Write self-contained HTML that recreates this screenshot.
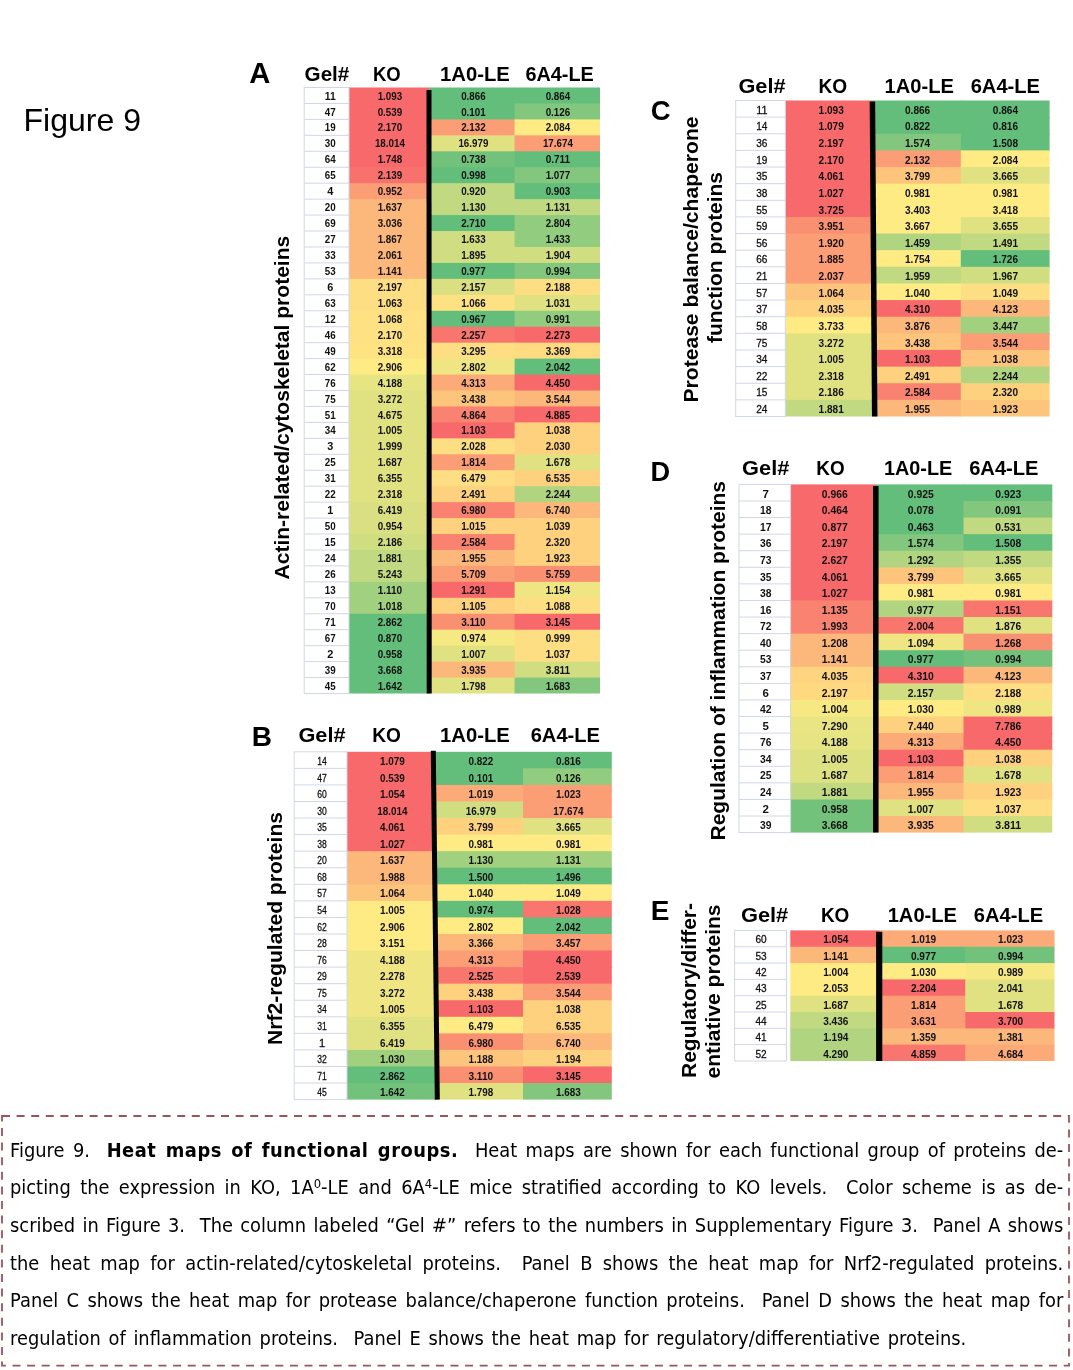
<!DOCTYPE html>
<html lang="en"><head><meta charset="utf-8"><title>Figure 9</title>
<style>
html,body{margin:0;padding:0;background:#fff}
body{width:1073px;height:1370px;position:relative;overflow:hidden;font-family:"Liberation Sans",sans-serif}
#cap{position:absolute;left:3px;top:1116px;width:1065px;height:249px}
#cap .ln{position:absolute;left:6.8px;width:1135px;height:20px;line-height:20px;font-family:"DejaVu Sans","Liberation Sans",sans-serif;font-size:19.25px;color:#000;white-space:nowrap;text-align:justify;text-align-last:justify;transform:scaleX(0.928);transform-origin:0 0}
#cap .ln.last{text-align:left;text-align-last:left;width:auto;word-spacing:2.2px}
#cap sup{font-size:12.5px;line-height:0;vertical-align:6px}
#cap b{letter-spacing:0.55px}
</style></head><body>
<svg width="1073" height="1110" viewBox="0 0 1073 1110" style="position:absolute;left:0;top:0">
<g font-family="Liberation Sans, sans-serif" fill="#111">
<g>
<rect x="349.00" y="87.50" width="80.60" height="16.95" fill="#f8696b"/>
<rect x="429.00" y="87.50" width="86.20" height="16.95" fill="#63be7b"/>
<rect x="514.60" y="87.50" width="85.40" height="16.95" fill="#63be7b"/>
<rect x="349.00" y="103.45" width="80.60" height="16.95" fill="#f8696b"/>
<rect x="429.00" y="103.45" width="86.20" height="16.95" fill="#63be7b"/>
<rect x="514.60" y="103.45" width="85.40" height="16.95" fill="#82c77d"/>
<rect x="349.00" y="119.39" width="80.60" height="16.95" fill="#f8696b"/>
<rect x="429.00" y="119.39" width="86.20" height="16.95" fill="#fb9d75"/>
<rect x="514.60" y="119.39" width="85.40" height="16.95" fill="#ffeb84"/>
<rect x="349.00" y="135.34" width="80.60" height="16.95" fill="#f8696b"/>
<rect x="429.00" y="135.34" width="86.20" height="16.95" fill="#e0e282"/>
<rect x="514.60" y="135.34" width="85.40" height="16.95" fill="#fb9d75"/>
<rect x="349.00" y="151.29" width="80.60" height="16.95" fill="#f8696b"/>
<rect x="429.00" y="151.29" width="86.20" height="16.95" fill="#73c27c"/>
<rect x="514.60" y="151.29" width="85.40" height="16.95" fill="#63be7b"/>
<rect x="349.00" y="167.24" width="80.60" height="16.95" fill="#f8716c"/>
<rect x="429.00" y="167.24" width="86.20" height="16.95" fill="#63be7b"/>
<rect x="514.60" y="167.24" width="85.40" height="16.95" fill="#82c77d"/>
<rect x="349.00" y="183.18" width="80.60" height="16.95" fill="#fb9d75"/>
<rect x="429.00" y="183.18" width="86.20" height="16.95" fill="#c1d980"/>
<rect x="514.60" y="183.18" width="85.40" height="16.95" fill="#63be7b"/>
<rect x="349.00" y="199.13" width="80.60" height="16.95" fill="#fcb77a"/>
<rect x="429.00" y="199.13" width="86.20" height="16.95" fill="#c1d980"/>
<rect x="514.60" y="199.13" width="85.40" height="16.95" fill="#c1d980"/>
<rect x="349.00" y="215.08" width="80.60" height="16.95" fill="#fcb77a"/>
<rect x="429.00" y="215.08" width="86.20" height="16.95" fill="#63be7b"/>
<rect x="514.60" y="215.08" width="85.40" height="16.95" fill="#92cc7e"/>
<rect x="349.00" y="231.03" width="80.60" height="16.95" fill="#fcb77a"/>
<rect x="429.00" y="231.03" width="86.20" height="16.95" fill="#d0de81"/>
<rect x="514.60" y="231.03" width="85.40" height="16.95" fill="#92cc7e"/>
<rect x="349.00" y="246.97" width="80.60" height="16.95" fill="#fcb77a"/>
<rect x="429.00" y="246.97" width="86.20" height="16.95" fill="#d0de81"/>
<rect x="514.60" y="246.97" width="85.40" height="16.95" fill="#d0de81"/>
<rect x="349.00" y="262.92" width="80.60" height="16.95" fill="#fcb77a"/>
<rect x="429.00" y="262.92" width="86.20" height="16.95" fill="#63be7b"/>
<rect x="514.60" y="262.92" width="85.40" height="16.95" fill="#82c77d"/>
<rect x="349.00" y="278.87" width="80.60" height="16.95" fill="#fede82"/>
<rect x="429.00" y="278.87" width="86.20" height="16.95" fill="#dae082"/>
<rect x="514.60" y="278.87" width="85.40" height="16.95" fill="#fede82"/>
<rect x="349.00" y="294.82" width="80.60" height="16.95" fill="#fede82"/>
<rect x="429.00" y="294.82" width="86.20" height="16.95" fill="#fee182"/>
<rect x="514.60" y="294.82" width="85.40" height="16.95" fill="#e0e282"/>
<rect x="349.00" y="310.76" width="80.60" height="16.95" fill="#fee182"/>
<rect x="429.00" y="310.76" width="86.20" height="16.95" fill="#63be7b"/>
<rect x="514.60" y="310.76" width="85.40" height="16.95" fill="#92cc7e"/>
<rect x="349.00" y="326.71" width="80.60" height="16.95" fill="#fee182"/>
<rect x="429.00" y="326.71" width="86.20" height="16.95" fill="#f9766e"/>
<rect x="514.60" y="326.71" width="85.40" height="16.95" fill="#f8696b"/>
<rect x="349.00" y="342.66" width="80.60" height="16.95" fill="#ffe382"/>
<rect x="429.00" y="342.66" width="86.20" height="16.95" fill="#fede82"/>
<rect x="514.60" y="342.66" width="85.40" height="16.95" fill="#fedb81"/>
<rect x="349.00" y="358.61" width="80.60" height="16.95" fill="#ffeb84"/>
<rect x="429.00" y="358.61" width="86.20" height="16.95" fill="#efe683"/>
<rect x="514.60" y="358.61" width="85.40" height="16.95" fill="#63be7b"/>
<rect x="349.00" y="374.55" width="80.60" height="16.95" fill="#e6e483"/>
<rect x="429.00" y="374.55" width="86.20" height="16.95" fill="#fcaa78"/>
<rect x="514.60" y="374.55" width="85.40" height="16.95" fill="#f8696b"/>
<rect x="349.00" y="390.50" width="80.60" height="16.95" fill="#e0e282"/>
<rect x="429.00" y="390.50" width="86.20" height="16.95" fill="#fdc47c"/>
<rect x="514.60" y="390.50" width="85.40" height="16.95" fill="#fcb77a"/>
<rect x="349.00" y="406.45" width="80.60" height="16.95" fill="#e0e282"/>
<rect x="429.00" y="406.45" width="86.20" height="16.95" fill="#f98370"/>
<rect x="514.60" y="406.45" width="85.40" height="16.95" fill="#f8696b"/>
<rect x="349.00" y="422.39" width="80.60" height="16.95" fill="#e0e282"/>
<rect x="429.00" y="422.39" width="86.20" height="16.95" fill="#f8696b"/>
<rect x="514.60" y="422.39" width="85.40" height="16.95" fill="#fed17f"/>
<rect x="349.00" y="438.34" width="80.60" height="16.95" fill="#e0e282"/>
<rect x="429.00" y="438.34" width="86.20" height="16.95" fill="#fede82"/>
<rect x="514.60" y="438.34" width="85.40" height="16.95" fill="#fed17f"/>
<rect x="349.00" y="454.29" width="80.60" height="16.95" fill="#e0e282"/>
<rect x="429.00" y="454.29" width="86.20" height="16.95" fill="#fb9d75"/>
<rect x="514.60" y="454.29" width="85.40" height="16.95" fill="#e0e282"/>
<rect x="349.00" y="470.24" width="80.60" height="16.95" fill="#e0e282"/>
<rect x="429.00" y="470.24" width="86.20" height="16.95" fill="#fede82"/>
<rect x="514.60" y="470.24" width="85.40" height="16.95" fill="#fed17f"/>
<rect x="349.00" y="486.18" width="80.60" height="16.95" fill="#e0e282"/>
<rect x="429.00" y="486.18" width="86.20" height="16.95" fill="#fed17f"/>
<rect x="514.60" y="486.18" width="85.40" height="16.95" fill="#b1d480"/>
<rect x="349.00" y="502.13" width="80.60" height="16.95" fill="#dae082"/>
<rect x="429.00" y="502.13" width="86.20" height="16.95" fill="#f98370"/>
<rect x="514.60" y="502.13" width="85.40" height="16.95" fill="#fcb77a"/>
<rect x="349.00" y="518.08" width="80.60" height="16.95" fill="#dae082"/>
<rect x="429.00" y="518.08" width="86.20" height="16.95" fill="#fed17f"/>
<rect x="514.60" y="518.08" width="85.40" height="16.95" fill="#fed17f"/>
<rect x="349.00" y="534.03" width="80.60" height="16.95" fill="#d0de81"/>
<rect x="429.00" y="534.03" width="86.20" height="16.95" fill="#f98370"/>
<rect x="514.60" y="534.03" width="85.40" height="16.95" fill="#fed17f"/>
<rect x="349.00" y="549.97" width="80.60" height="16.95" fill="#c1d980"/>
<rect x="429.00" y="549.97" width="86.20" height="16.95" fill="#fcb77a"/>
<rect x="514.60" y="549.97" width="85.40" height="16.95" fill="#fed17f"/>
<rect x="349.00" y="565.92" width="80.60" height="16.95" fill="#c1d980"/>
<rect x="429.00" y="565.92" width="86.20" height="16.95" fill="#fb9d75"/>
<rect x="514.60" y="565.92" width="85.40" height="16.95" fill="#fa9072"/>
<rect x="349.00" y="581.87" width="80.60" height="16.95" fill="#a1d07f"/>
<rect x="429.00" y="581.87" width="86.20" height="16.95" fill="#f8696b"/>
<rect x="514.60" y="581.87" width="85.40" height="16.95" fill="#efe683"/>
<rect x="349.00" y="597.82" width="80.60" height="16.95" fill="#a1d07f"/>
<rect x="429.00" y="597.82" width="86.20" height="16.95" fill="#fed17f"/>
<rect x="514.60" y="597.82" width="85.40" height="16.95" fill="#fede82"/>
<rect x="349.00" y="613.76" width="80.60" height="16.95" fill="#63be7b"/>
<rect x="429.00" y="613.76" width="86.20" height="16.95" fill="#fa9072"/>
<rect x="514.60" y="613.76" width="85.40" height="16.95" fill="#f8696b"/>
<rect x="349.00" y="629.71" width="80.60" height="16.95" fill="#63be7b"/>
<rect x="429.00" y="629.71" width="86.20" height="16.95" fill="#f6e883"/>
<rect x="514.60" y="629.71" width="85.40" height="16.95" fill="#fede82"/>
<rect x="349.00" y="645.66" width="80.60" height="16.95" fill="#63be7b"/>
<rect x="429.00" y="645.66" width="86.20" height="16.95" fill="#e0e282"/>
<rect x="514.60" y="645.66" width="85.40" height="16.95" fill="#fede82"/>
<rect x="349.00" y="661.61" width="80.60" height="16.95" fill="#63be7b"/>
<rect x="429.00" y="661.61" width="86.20" height="16.95" fill="#fcb77a"/>
<rect x="514.60" y="661.61" width="85.40" height="16.95" fill="#d0de81"/>
<rect x="349.00" y="677.55" width="80.60" height="15.95" fill="#63be7b"/>
<rect x="429.00" y="677.55" width="86.20" height="15.95" fill="#e0e282"/>
<rect x="514.60" y="677.55" width="85.40" height="15.95" fill="#82c77d"/>
<rect x="304.20" y="87.50" width="44.80" height="606.00" fill="#fff" stroke="#d0d7e5" stroke-width="1"/>
<line x1="304.20" y1="103.45" x2="349.00" y2="103.45" stroke="#d0d7e5" stroke-width="1"/>
<line x1="304.20" y1="119.39" x2="349.00" y2="119.39" stroke="#d0d7e5" stroke-width="1"/>
<line x1="304.20" y1="135.34" x2="349.00" y2="135.34" stroke="#d0d7e5" stroke-width="1"/>
<line x1="304.20" y1="151.29" x2="349.00" y2="151.29" stroke="#d0d7e5" stroke-width="1"/>
<line x1="304.20" y1="167.24" x2="349.00" y2="167.24" stroke="#d0d7e5" stroke-width="1"/>
<line x1="304.20" y1="183.18" x2="349.00" y2="183.18" stroke="#d0d7e5" stroke-width="1"/>
<line x1="304.20" y1="199.13" x2="349.00" y2="199.13" stroke="#d0d7e5" stroke-width="1"/>
<line x1="304.20" y1="215.08" x2="349.00" y2="215.08" stroke="#d0d7e5" stroke-width="1"/>
<line x1="304.20" y1="231.03" x2="349.00" y2="231.03" stroke="#d0d7e5" stroke-width="1"/>
<line x1="304.20" y1="246.97" x2="349.00" y2="246.97" stroke="#d0d7e5" stroke-width="1"/>
<line x1="304.20" y1="262.92" x2="349.00" y2="262.92" stroke="#d0d7e5" stroke-width="1"/>
<line x1="304.20" y1="278.87" x2="349.00" y2="278.87" stroke="#d0d7e5" stroke-width="1"/>
<line x1="304.20" y1="294.82" x2="349.00" y2="294.82" stroke="#d0d7e5" stroke-width="1"/>
<line x1="304.20" y1="310.76" x2="349.00" y2="310.76" stroke="#d0d7e5" stroke-width="1"/>
<line x1="304.20" y1="326.71" x2="349.00" y2="326.71" stroke="#d0d7e5" stroke-width="1"/>
<line x1="304.20" y1="342.66" x2="349.00" y2="342.66" stroke="#d0d7e5" stroke-width="1"/>
<line x1="304.20" y1="358.61" x2="349.00" y2="358.61" stroke="#d0d7e5" stroke-width="1"/>
<line x1="304.20" y1="374.55" x2="349.00" y2="374.55" stroke="#d0d7e5" stroke-width="1"/>
<line x1="304.20" y1="390.50" x2="349.00" y2="390.50" stroke="#d0d7e5" stroke-width="1"/>
<line x1="304.20" y1="406.45" x2="349.00" y2="406.45" stroke="#d0d7e5" stroke-width="1"/>
<line x1="304.20" y1="422.39" x2="349.00" y2="422.39" stroke="#d0d7e5" stroke-width="1"/>
<line x1="304.20" y1="438.34" x2="349.00" y2="438.34" stroke="#d0d7e5" stroke-width="1"/>
<line x1="304.20" y1="454.29" x2="349.00" y2="454.29" stroke="#d0d7e5" stroke-width="1"/>
<line x1="304.20" y1="470.24" x2="349.00" y2="470.24" stroke="#d0d7e5" stroke-width="1"/>
<line x1="304.20" y1="486.18" x2="349.00" y2="486.18" stroke="#d0d7e5" stroke-width="1"/>
<line x1="304.20" y1="502.13" x2="349.00" y2="502.13" stroke="#d0d7e5" stroke-width="1"/>
<line x1="304.20" y1="518.08" x2="349.00" y2="518.08" stroke="#d0d7e5" stroke-width="1"/>
<line x1="304.20" y1="534.03" x2="349.00" y2="534.03" stroke="#d0d7e5" stroke-width="1"/>
<line x1="304.20" y1="549.97" x2="349.00" y2="549.97" stroke="#d0d7e5" stroke-width="1"/>
<line x1="304.20" y1="565.92" x2="349.00" y2="565.92" stroke="#d0d7e5" stroke-width="1"/>
<line x1="304.20" y1="581.87" x2="349.00" y2="581.87" stroke="#d0d7e5" stroke-width="1"/>
<line x1="304.20" y1="597.82" x2="349.00" y2="597.82" stroke="#d0d7e5" stroke-width="1"/>
<line x1="304.20" y1="613.76" x2="349.00" y2="613.76" stroke="#d0d7e5" stroke-width="1"/>
<line x1="304.20" y1="629.71" x2="349.00" y2="629.71" stroke="#d0d7e5" stroke-width="1"/>
<line x1="304.20" y1="645.66" x2="349.00" y2="645.66" stroke="#d0d7e5" stroke-width="1"/>
<line x1="304.20" y1="661.61" x2="349.00" y2="661.61" stroke="#d0d7e5" stroke-width="1"/>
<line x1="304.20" y1="677.55" x2="349.00" y2="677.55" stroke="#d0d7e5" stroke-width="1"/>
<g font-size="10.9" font-weight="bold">
<text x="324.85" y="99.57" textLength="10.91" lengthAdjust="spacingAndGlyphs">11</text>
<text x="377.63" y="99.57" textLength="24.54" lengthAdjust="spacingAndGlyphs">1.093</text>
<text x="461.13" y="99.57" textLength="24.54" lengthAdjust="spacingAndGlyphs">0.866</text>
<text x="545.63" y="99.57" textLength="24.54" lengthAdjust="spacingAndGlyphs">0.864</text>
<text x="324.85" y="115.52" textLength="10.91" lengthAdjust="spacingAndGlyphs">47</text>
<text x="377.63" y="115.52" textLength="24.54" lengthAdjust="spacingAndGlyphs">0.539</text>
<text x="461.13" y="115.52" textLength="24.54" lengthAdjust="spacingAndGlyphs">0.101</text>
<text x="545.63" y="115.52" textLength="24.54" lengthAdjust="spacingAndGlyphs">0.126</text>
<text x="324.85" y="131.47" textLength="10.91" lengthAdjust="spacingAndGlyphs">19</text>
<text x="377.63" y="131.47" textLength="24.54" lengthAdjust="spacingAndGlyphs">2.170</text>
<text x="461.13" y="131.47" textLength="24.54" lengthAdjust="spacingAndGlyphs">2.132</text>
<text x="545.63" y="131.47" textLength="24.54" lengthAdjust="spacingAndGlyphs">2.084</text>
<text x="324.85" y="147.42" textLength="10.91" lengthAdjust="spacingAndGlyphs">30</text>
<text x="374.90" y="147.42" textLength="30.00" lengthAdjust="spacingAndGlyphs">18.014</text>
<text x="458.40" y="147.42" textLength="30.00" lengthAdjust="spacingAndGlyphs">16.979</text>
<text x="542.90" y="147.42" textLength="30.00" lengthAdjust="spacingAndGlyphs">17.674</text>
<text x="324.85" y="163.36" textLength="10.91" lengthAdjust="spacingAndGlyphs">64</text>
<text x="377.63" y="163.36" textLength="24.54" lengthAdjust="spacingAndGlyphs">1.748</text>
<text x="461.13" y="163.36" textLength="24.54" lengthAdjust="spacingAndGlyphs">0.738</text>
<text x="545.63" y="163.36" textLength="24.54" lengthAdjust="spacingAndGlyphs">0.711</text>
<text x="324.85" y="179.31" textLength="10.91" lengthAdjust="spacingAndGlyphs">65</text>
<text x="377.63" y="179.31" textLength="24.54" lengthAdjust="spacingAndGlyphs">2.139</text>
<text x="461.13" y="179.31" textLength="24.54" lengthAdjust="spacingAndGlyphs">0.998</text>
<text x="545.63" y="179.31" textLength="24.54" lengthAdjust="spacingAndGlyphs">1.077</text>
<text x="330.30" y="195.26" text-anchor="middle">4</text>
<text x="377.63" y="195.26" textLength="24.54" lengthAdjust="spacingAndGlyphs">0.952</text>
<text x="461.13" y="195.26" textLength="24.54" lengthAdjust="spacingAndGlyphs">0.920</text>
<text x="545.63" y="195.26" textLength="24.54" lengthAdjust="spacingAndGlyphs">0.903</text>
<text x="324.85" y="211.21" textLength="10.91" lengthAdjust="spacingAndGlyphs">20</text>
<text x="377.63" y="211.21" textLength="24.54" lengthAdjust="spacingAndGlyphs">1.637</text>
<text x="461.13" y="211.21" textLength="24.54" lengthAdjust="spacingAndGlyphs">1.130</text>
<text x="545.63" y="211.21" textLength="24.54" lengthAdjust="spacingAndGlyphs">1.131</text>
<text x="324.85" y="227.15" textLength="10.91" lengthAdjust="spacingAndGlyphs">69</text>
<text x="377.63" y="227.15" textLength="24.54" lengthAdjust="spacingAndGlyphs">3.036</text>
<text x="461.13" y="227.15" textLength="24.54" lengthAdjust="spacingAndGlyphs">2.710</text>
<text x="545.63" y="227.15" textLength="24.54" lengthAdjust="spacingAndGlyphs">2.804</text>
<text x="324.85" y="243.10" textLength="10.91" lengthAdjust="spacingAndGlyphs">27</text>
<text x="377.63" y="243.10" textLength="24.54" lengthAdjust="spacingAndGlyphs">1.867</text>
<text x="461.13" y="243.10" textLength="24.54" lengthAdjust="spacingAndGlyphs">1.633</text>
<text x="545.63" y="243.10" textLength="24.54" lengthAdjust="spacingAndGlyphs">1.433</text>
<text x="324.85" y="259.05" textLength="10.91" lengthAdjust="spacingAndGlyphs">33</text>
<text x="377.63" y="259.05" textLength="24.54" lengthAdjust="spacingAndGlyphs">2.061</text>
<text x="461.13" y="259.05" textLength="24.54" lengthAdjust="spacingAndGlyphs">1.895</text>
<text x="545.63" y="259.05" textLength="24.54" lengthAdjust="spacingAndGlyphs">1.904</text>
<text x="324.85" y="274.99" textLength="10.91" lengthAdjust="spacingAndGlyphs">53</text>
<text x="377.63" y="274.99" textLength="24.54" lengthAdjust="spacingAndGlyphs">1.141</text>
<text x="461.13" y="274.99" textLength="24.54" lengthAdjust="spacingAndGlyphs">0.977</text>
<text x="545.63" y="274.99" textLength="24.54" lengthAdjust="spacingAndGlyphs">0.994</text>
<text x="330.30" y="290.94" text-anchor="middle">6</text>
<text x="377.63" y="290.94" textLength="24.54" lengthAdjust="spacingAndGlyphs">2.197</text>
<text x="461.13" y="290.94" textLength="24.54" lengthAdjust="spacingAndGlyphs">2.157</text>
<text x="545.63" y="290.94" textLength="24.54" lengthAdjust="spacingAndGlyphs">2.188</text>
<text x="324.85" y="306.89" textLength="10.91" lengthAdjust="spacingAndGlyphs">63</text>
<text x="377.63" y="306.89" textLength="24.54" lengthAdjust="spacingAndGlyphs">1.063</text>
<text x="461.13" y="306.89" textLength="24.54" lengthAdjust="spacingAndGlyphs">1.066</text>
<text x="545.63" y="306.89" textLength="24.54" lengthAdjust="spacingAndGlyphs">1.031</text>
<text x="324.85" y="322.84" textLength="10.91" lengthAdjust="spacingAndGlyphs">12</text>
<text x="377.63" y="322.84" textLength="24.54" lengthAdjust="spacingAndGlyphs">1.068</text>
<text x="461.13" y="322.84" textLength="24.54" lengthAdjust="spacingAndGlyphs">0.967</text>
<text x="545.63" y="322.84" textLength="24.54" lengthAdjust="spacingAndGlyphs">0.991</text>
<text x="324.85" y="338.78" textLength="10.91" lengthAdjust="spacingAndGlyphs">46</text>
<text x="377.63" y="338.78" textLength="24.54" lengthAdjust="spacingAndGlyphs">2.170</text>
<text x="461.13" y="338.78" textLength="24.54" lengthAdjust="spacingAndGlyphs">2.257</text>
<text x="545.63" y="338.78" textLength="24.54" lengthAdjust="spacingAndGlyphs">2.273</text>
<text x="324.85" y="354.73" textLength="10.91" lengthAdjust="spacingAndGlyphs">49</text>
<text x="377.63" y="354.73" textLength="24.54" lengthAdjust="spacingAndGlyphs">3.318</text>
<text x="461.13" y="354.73" textLength="24.54" lengthAdjust="spacingAndGlyphs">3.295</text>
<text x="545.63" y="354.73" textLength="24.54" lengthAdjust="spacingAndGlyphs">3.369</text>
<text x="324.85" y="370.68" textLength="10.91" lengthAdjust="spacingAndGlyphs">62</text>
<text x="377.63" y="370.68" textLength="24.54" lengthAdjust="spacingAndGlyphs">2.906</text>
<text x="461.13" y="370.68" textLength="24.54" lengthAdjust="spacingAndGlyphs">2.802</text>
<text x="545.63" y="370.68" textLength="24.54" lengthAdjust="spacingAndGlyphs">2.042</text>
<text x="324.85" y="386.63" textLength="10.91" lengthAdjust="spacingAndGlyphs">76</text>
<text x="377.63" y="386.63" textLength="24.54" lengthAdjust="spacingAndGlyphs">4.188</text>
<text x="461.13" y="386.63" textLength="24.54" lengthAdjust="spacingAndGlyphs">4.313</text>
<text x="545.63" y="386.63" textLength="24.54" lengthAdjust="spacingAndGlyphs">4.450</text>
<text x="324.85" y="402.57" textLength="10.91" lengthAdjust="spacingAndGlyphs">75</text>
<text x="377.63" y="402.57" textLength="24.54" lengthAdjust="spacingAndGlyphs">3.272</text>
<text x="461.13" y="402.57" textLength="24.54" lengthAdjust="spacingAndGlyphs">3.438</text>
<text x="545.63" y="402.57" textLength="24.54" lengthAdjust="spacingAndGlyphs">3.544</text>
<text x="324.85" y="418.52" textLength="10.91" lengthAdjust="spacingAndGlyphs">51</text>
<text x="377.63" y="418.52" textLength="24.54" lengthAdjust="spacingAndGlyphs">4.675</text>
<text x="461.13" y="418.52" textLength="24.54" lengthAdjust="spacingAndGlyphs">4.864</text>
<text x="545.63" y="418.52" textLength="24.54" lengthAdjust="spacingAndGlyphs">4.885</text>
<text x="324.85" y="434.47" textLength="10.91" lengthAdjust="spacingAndGlyphs">34</text>
<text x="377.63" y="434.47" textLength="24.54" lengthAdjust="spacingAndGlyphs">1.005</text>
<text x="461.13" y="434.47" textLength="24.54" lengthAdjust="spacingAndGlyphs">1.103</text>
<text x="545.63" y="434.47" textLength="24.54" lengthAdjust="spacingAndGlyphs">1.038</text>
<text x="330.30" y="450.42" text-anchor="middle">3</text>
<text x="377.63" y="450.42" textLength="24.54" lengthAdjust="spacingAndGlyphs">1.999</text>
<text x="461.13" y="450.42" textLength="24.54" lengthAdjust="spacingAndGlyphs">2.028</text>
<text x="545.63" y="450.42" textLength="24.54" lengthAdjust="spacingAndGlyphs">2.030</text>
<text x="324.85" y="466.36" textLength="10.91" lengthAdjust="spacingAndGlyphs">25</text>
<text x="377.63" y="466.36" textLength="24.54" lengthAdjust="spacingAndGlyphs">1.687</text>
<text x="461.13" y="466.36" textLength="24.54" lengthAdjust="spacingAndGlyphs">1.814</text>
<text x="545.63" y="466.36" textLength="24.54" lengthAdjust="spacingAndGlyphs">1.678</text>
<text x="324.85" y="482.31" textLength="10.91" lengthAdjust="spacingAndGlyphs">31</text>
<text x="377.63" y="482.31" textLength="24.54" lengthAdjust="spacingAndGlyphs">6.355</text>
<text x="461.13" y="482.31" textLength="24.54" lengthAdjust="spacingAndGlyphs">6.479</text>
<text x="545.63" y="482.31" textLength="24.54" lengthAdjust="spacingAndGlyphs">6.535</text>
<text x="324.85" y="498.26" textLength="10.91" lengthAdjust="spacingAndGlyphs">22</text>
<text x="377.63" y="498.26" textLength="24.54" lengthAdjust="spacingAndGlyphs">2.318</text>
<text x="461.13" y="498.26" textLength="24.54" lengthAdjust="spacingAndGlyphs">2.491</text>
<text x="545.63" y="498.26" textLength="24.54" lengthAdjust="spacingAndGlyphs">2.244</text>
<text x="330.30" y="514.21" text-anchor="middle">1</text>
<text x="377.63" y="514.21" textLength="24.54" lengthAdjust="spacingAndGlyphs">6.419</text>
<text x="461.13" y="514.21" textLength="24.54" lengthAdjust="spacingAndGlyphs">6.980</text>
<text x="545.63" y="514.21" textLength="24.54" lengthAdjust="spacingAndGlyphs">6.740</text>
<text x="324.85" y="530.15" textLength="10.91" lengthAdjust="spacingAndGlyphs">50</text>
<text x="377.63" y="530.15" textLength="24.54" lengthAdjust="spacingAndGlyphs">0.954</text>
<text x="461.13" y="530.15" textLength="24.54" lengthAdjust="spacingAndGlyphs">1.015</text>
<text x="545.63" y="530.15" textLength="24.54" lengthAdjust="spacingAndGlyphs">1.039</text>
<text x="324.85" y="546.10" textLength="10.91" lengthAdjust="spacingAndGlyphs">15</text>
<text x="377.63" y="546.10" textLength="24.54" lengthAdjust="spacingAndGlyphs">2.186</text>
<text x="461.13" y="546.10" textLength="24.54" lengthAdjust="spacingAndGlyphs">2.584</text>
<text x="545.63" y="546.10" textLength="24.54" lengthAdjust="spacingAndGlyphs">2.320</text>
<text x="324.85" y="562.05" textLength="10.91" lengthAdjust="spacingAndGlyphs">24</text>
<text x="377.63" y="562.05" textLength="24.54" lengthAdjust="spacingAndGlyphs">1.881</text>
<text x="461.13" y="562.05" textLength="24.54" lengthAdjust="spacingAndGlyphs">1.955</text>
<text x="545.63" y="562.05" textLength="24.54" lengthAdjust="spacingAndGlyphs">1.923</text>
<text x="324.85" y="577.99" textLength="10.91" lengthAdjust="spacingAndGlyphs">26</text>
<text x="377.63" y="577.99" textLength="24.54" lengthAdjust="spacingAndGlyphs">5.243</text>
<text x="461.13" y="577.99" textLength="24.54" lengthAdjust="spacingAndGlyphs">5.709</text>
<text x="545.63" y="577.99" textLength="24.54" lengthAdjust="spacingAndGlyphs">5.759</text>
<text x="324.85" y="593.94" textLength="10.91" lengthAdjust="spacingAndGlyphs">13</text>
<text x="377.63" y="593.94" textLength="24.54" lengthAdjust="spacingAndGlyphs">1.110</text>
<text x="461.13" y="593.94" textLength="24.54" lengthAdjust="spacingAndGlyphs">1.291</text>
<text x="545.63" y="593.94" textLength="24.54" lengthAdjust="spacingAndGlyphs">1.154</text>
<text x="324.85" y="609.89" textLength="10.91" lengthAdjust="spacingAndGlyphs">70</text>
<text x="377.63" y="609.89" textLength="24.54" lengthAdjust="spacingAndGlyphs">1.018</text>
<text x="461.13" y="609.89" textLength="24.54" lengthAdjust="spacingAndGlyphs">1.105</text>
<text x="545.63" y="609.89" textLength="24.54" lengthAdjust="spacingAndGlyphs">1.088</text>
<text x="324.85" y="625.84" textLength="10.91" lengthAdjust="spacingAndGlyphs">71</text>
<text x="377.63" y="625.84" textLength="24.54" lengthAdjust="spacingAndGlyphs">2.862</text>
<text x="461.13" y="625.84" textLength="24.54" lengthAdjust="spacingAndGlyphs">3.110</text>
<text x="545.63" y="625.84" textLength="24.54" lengthAdjust="spacingAndGlyphs">3.145</text>
<text x="324.85" y="641.78" textLength="10.91" lengthAdjust="spacingAndGlyphs">67</text>
<text x="377.63" y="641.78" textLength="24.54" lengthAdjust="spacingAndGlyphs">0.870</text>
<text x="461.13" y="641.78" textLength="24.54" lengthAdjust="spacingAndGlyphs">0.974</text>
<text x="545.63" y="641.78" textLength="24.54" lengthAdjust="spacingAndGlyphs">0.999</text>
<text x="330.30" y="657.73" text-anchor="middle">2</text>
<text x="377.63" y="657.73" textLength="24.54" lengthAdjust="spacingAndGlyphs">0.958</text>
<text x="461.13" y="657.73" textLength="24.54" lengthAdjust="spacingAndGlyphs">1.007</text>
<text x="545.63" y="657.73" textLength="24.54" lengthAdjust="spacingAndGlyphs">1.037</text>
<text x="324.85" y="673.68" textLength="10.91" lengthAdjust="spacingAndGlyphs">39</text>
<text x="377.63" y="673.68" textLength="24.54" lengthAdjust="spacingAndGlyphs">3.668</text>
<text x="461.13" y="673.68" textLength="24.54" lengthAdjust="spacingAndGlyphs">3.935</text>
<text x="545.63" y="673.68" textLength="24.54" lengthAdjust="spacingAndGlyphs">3.811</text>
<text x="324.85" y="689.63" textLength="10.91" lengthAdjust="spacingAndGlyphs">45</text>
<text x="377.63" y="689.63" textLength="24.54" lengthAdjust="spacingAndGlyphs">1.642</text>
<text x="461.13" y="689.63" textLength="24.54" lengthAdjust="spacingAndGlyphs">1.798</text>
<text x="545.63" y="689.63" textLength="24.54" lengthAdjust="spacingAndGlyphs">1.683</text>
</g>
<line x1="429.00" y1="90.00" x2="429.20" y2="693.50" stroke="#000" stroke-width="5.0"/>
<g font-size="19.4" font-weight="bold" fill="#000">
<text x="304.60" y="80.80" textLength="44.70" lengthAdjust="spacingAndGlyphs">Gel#</text>
<text x="372.90" y="80.80" textLength="27.70" lengthAdjust="spacingAndGlyphs">KO</text>
<text x="440.00" y="80.80" textLength="69.80" lengthAdjust="spacingAndGlyphs">1A0-LE</text>
<text x="525.50" y="80.80" textLength="68.30" lengthAdjust="spacingAndGlyphs">6A4-LE</text>
</g>
</g>
<g>
<rect x="347.00" y="751.80" width="88.60" height="17.56" fill="#f8696b"/>
<rect x="435.00" y="751.80" width="88.60" height="17.56" fill="#63be7b"/>
<rect x="523.00" y="751.80" width="88.80" height="17.56" fill="#63be7b"/>
<rect x="347.00" y="768.36" width="88.60" height="17.56" fill="#f8696b"/>
<rect x="435.00" y="768.36" width="88.60" height="17.56" fill="#63be7b"/>
<rect x="523.00" y="768.36" width="88.80" height="17.56" fill="#92cc7e"/>
<rect x="347.00" y="784.92" width="88.60" height="17.56" fill="#f8696b"/>
<rect x="435.00" y="784.92" width="88.60" height="17.56" fill="#fcaa78"/>
<rect x="523.00" y="784.92" width="88.80" height="17.56" fill="#fb9d75"/>
<rect x="347.00" y="801.49" width="88.60" height="17.56" fill="#f8696b"/>
<rect x="435.00" y="801.49" width="88.60" height="17.56" fill="#d0de81"/>
<rect x="523.00" y="801.49" width="88.80" height="17.56" fill="#fb9d75"/>
<rect x="347.00" y="818.05" width="88.60" height="17.56" fill="#f8696b"/>
<rect x="435.00" y="818.05" width="88.60" height="17.56" fill="#fed17f"/>
<rect x="523.00" y="818.05" width="88.80" height="17.56" fill="#e0e282"/>
<rect x="347.00" y="834.61" width="88.60" height="17.56" fill="#f8696b"/>
<rect x="435.00" y="834.61" width="88.60" height="17.56" fill="#ffeb84"/>
<rect x="523.00" y="834.61" width="88.80" height="17.56" fill="#ffeb84"/>
<rect x="347.00" y="851.17" width="88.60" height="17.56" fill="#fcb77a"/>
<rect x="435.00" y="851.17" width="88.60" height="17.56" fill="#a1d07f"/>
<rect x="523.00" y="851.17" width="88.80" height="17.56" fill="#a1d07f"/>
<rect x="347.00" y="867.73" width="88.60" height="17.56" fill="#fcb77a"/>
<rect x="435.00" y="867.73" width="88.60" height="17.56" fill="#63be7b"/>
<rect x="523.00" y="867.73" width="88.80" height="17.56" fill="#63be7b"/>
<rect x="347.00" y="884.30" width="88.60" height="17.56" fill="#fdc47c"/>
<rect x="435.00" y="884.30" width="88.60" height="17.56" fill="#ffeb84"/>
<rect x="523.00" y="884.30" width="88.80" height="17.56" fill="#ffeb84"/>
<rect x="347.00" y="900.86" width="88.60" height="17.56" fill="#ffeb84"/>
<rect x="435.00" y="900.86" width="88.60" height="17.56" fill="#63be7b"/>
<rect x="523.00" y="900.86" width="88.80" height="17.56" fill="#f9766e"/>
<rect x="347.00" y="917.42" width="88.60" height="17.56" fill="#ffeb84"/>
<rect x="435.00" y="917.42" width="88.60" height="17.56" fill="#ffeb84"/>
<rect x="523.00" y="917.42" width="88.80" height="17.56" fill="#63be7b"/>
<rect x="347.00" y="933.98" width="88.60" height="17.56" fill="#ffeb84"/>
<rect x="435.00" y="933.98" width="88.60" height="17.56" fill="#fcb77a"/>
<rect x="523.00" y="933.98" width="88.80" height="17.56" fill="#fb9d75"/>
<rect x="347.00" y="950.54" width="88.60" height="17.56" fill="#efe683"/>
<rect x="435.00" y="950.54" width="88.60" height="17.56" fill="#fb9d75"/>
<rect x="523.00" y="950.54" width="88.80" height="17.56" fill="#f8696b"/>
<rect x="347.00" y="967.10" width="88.60" height="17.56" fill="#efe683"/>
<rect x="435.00" y="967.10" width="88.60" height="17.56" fill="#f9766e"/>
<rect x="523.00" y="967.10" width="88.80" height="17.56" fill="#f8696b"/>
<rect x="347.00" y="983.67" width="88.60" height="17.56" fill="#efe683"/>
<rect x="435.00" y="983.67" width="88.60" height="17.56" fill="#fed17f"/>
<rect x="523.00" y="983.67" width="88.80" height="17.56" fill="#fb9d75"/>
<rect x="347.00" y="1000.23" width="88.60" height="17.56" fill="#efe683"/>
<rect x="435.00" y="1000.23" width="88.60" height="17.56" fill="#f8696b"/>
<rect x="523.00" y="1000.23" width="88.80" height="17.56" fill="#fed17f"/>
<rect x="347.00" y="1016.79" width="88.60" height="17.56" fill="#e0e282"/>
<rect x="435.00" y="1016.79" width="88.60" height="17.56" fill="#ffeb84"/>
<rect x="523.00" y="1016.79" width="88.80" height="17.56" fill="#fed17f"/>
<rect x="347.00" y="1033.35" width="88.60" height="17.56" fill="#e0e282"/>
<rect x="435.00" y="1033.35" width="88.60" height="17.56" fill="#fa9072"/>
<rect x="523.00" y="1033.35" width="88.80" height="17.56" fill="#fcb77a"/>
<rect x="347.00" y="1049.91" width="88.60" height="17.56" fill="#a1d07f"/>
<rect x="435.00" y="1049.91" width="88.60" height="17.56" fill="#fdc47c"/>
<rect x="523.00" y="1049.91" width="88.80" height="17.56" fill="#fed17f"/>
<rect x="347.00" y="1066.48" width="88.60" height="17.56" fill="#63be7b"/>
<rect x="435.00" y="1066.48" width="88.60" height="17.56" fill="#fa9072"/>
<rect x="523.00" y="1066.48" width="88.80" height="17.56" fill="#f8696b"/>
<rect x="347.00" y="1083.04" width="88.60" height="16.56" fill="#73c27c"/>
<rect x="435.00" y="1083.04" width="88.60" height="16.56" fill="#e0e282"/>
<rect x="523.00" y="1083.04" width="88.80" height="16.56" fill="#82c77d"/>
<rect x="294.20" y="751.80" width="52.80" height="347.80" fill="#fff" stroke="#d0d7e5" stroke-width="1"/>
<line x1="294.20" y1="768.36" x2="347.00" y2="768.36" stroke="#d0d7e5" stroke-width="1"/>
<line x1="294.20" y1="784.92" x2="347.00" y2="784.92" stroke="#d0d7e5" stroke-width="1"/>
<line x1="294.20" y1="801.49" x2="347.00" y2="801.49" stroke="#d0d7e5" stroke-width="1"/>
<line x1="294.20" y1="818.05" x2="347.00" y2="818.05" stroke="#d0d7e5" stroke-width="1"/>
<line x1="294.20" y1="834.61" x2="347.00" y2="834.61" stroke="#d0d7e5" stroke-width="1"/>
<line x1="294.20" y1="851.17" x2="347.00" y2="851.17" stroke="#d0d7e5" stroke-width="1"/>
<line x1="294.20" y1="867.73" x2="347.00" y2="867.73" stroke="#d0d7e5" stroke-width="1"/>
<line x1="294.20" y1="884.30" x2="347.00" y2="884.30" stroke="#d0d7e5" stroke-width="1"/>
<line x1="294.20" y1="900.86" x2="347.00" y2="900.86" stroke="#d0d7e5" stroke-width="1"/>
<line x1="294.20" y1="917.42" x2="347.00" y2="917.42" stroke="#d0d7e5" stroke-width="1"/>
<line x1="294.20" y1="933.98" x2="347.00" y2="933.98" stroke="#d0d7e5" stroke-width="1"/>
<line x1="294.20" y1="950.54" x2="347.00" y2="950.54" stroke="#d0d7e5" stroke-width="1"/>
<line x1="294.20" y1="967.10" x2="347.00" y2="967.10" stroke="#d0d7e5" stroke-width="1"/>
<line x1="294.20" y1="983.67" x2="347.00" y2="983.67" stroke="#d0d7e5" stroke-width="1"/>
<line x1="294.20" y1="1000.23" x2="347.00" y2="1000.23" stroke="#d0d7e5" stroke-width="1"/>
<line x1="294.20" y1="1016.79" x2="347.00" y2="1016.79" stroke="#d0d7e5" stroke-width="1"/>
<line x1="294.20" y1="1033.35" x2="347.00" y2="1033.35" stroke="#d0d7e5" stroke-width="1"/>
<line x1="294.20" y1="1049.91" x2="347.00" y2="1049.91" stroke="#d0d7e5" stroke-width="1"/>
<line x1="294.20" y1="1066.48" x2="347.00" y2="1066.48" stroke="#d0d7e5" stroke-width="1"/>
<line x1="294.20" y1="1083.04" x2="347.00" y2="1083.04" stroke="#d0d7e5" stroke-width="1"/>
<g font-size="11.0" font-weight="bold">
<text x="317.23" y="764.98" textLength="9.54" lengthAdjust="spacingAndGlyphs" font-weight="normal" stroke="#111" stroke-width="0.3">14</text>
<text x="379.92" y="764.98" textLength="24.77" lengthAdjust="spacingAndGlyphs">1.079</text>
<text x="468.42" y="764.98" textLength="24.77" lengthAdjust="spacingAndGlyphs">0.822</text>
<text x="556.02" y="764.98" textLength="24.77" lengthAdjust="spacingAndGlyphs">0.816</text>
<text x="317.23" y="781.54" textLength="9.54" lengthAdjust="spacingAndGlyphs" font-weight="normal" stroke="#111" stroke-width="0.3">47</text>
<text x="379.92" y="781.54" textLength="24.77" lengthAdjust="spacingAndGlyphs">0.539</text>
<text x="468.42" y="781.54" textLength="24.77" lengthAdjust="spacingAndGlyphs">0.101</text>
<text x="556.02" y="781.54" textLength="24.77" lengthAdjust="spacingAndGlyphs">0.126</text>
<text x="317.23" y="798.10" textLength="9.54" lengthAdjust="spacingAndGlyphs" font-weight="normal" stroke="#111" stroke-width="0.3">60</text>
<text x="379.92" y="798.10" textLength="24.77" lengthAdjust="spacingAndGlyphs">1.054</text>
<text x="468.42" y="798.10" textLength="24.77" lengthAdjust="spacingAndGlyphs">1.019</text>
<text x="556.02" y="798.10" textLength="24.77" lengthAdjust="spacingAndGlyphs">1.023</text>
<text x="317.23" y="814.67" textLength="9.54" lengthAdjust="spacingAndGlyphs" font-weight="normal" stroke="#111" stroke-width="0.3">30</text>
<text x="377.16" y="814.67" textLength="30.27" lengthAdjust="spacingAndGlyphs">18.014</text>
<text x="465.66" y="814.67" textLength="30.27" lengthAdjust="spacingAndGlyphs">16.979</text>
<text x="553.26" y="814.67" textLength="30.27" lengthAdjust="spacingAndGlyphs">17.674</text>
<text x="317.23" y="831.23" textLength="9.54" lengthAdjust="spacingAndGlyphs" font-weight="normal" stroke="#111" stroke-width="0.3">35</text>
<text x="379.92" y="831.23" textLength="24.77" lengthAdjust="spacingAndGlyphs">4.061</text>
<text x="468.42" y="831.23" textLength="24.77" lengthAdjust="spacingAndGlyphs">3.799</text>
<text x="556.02" y="831.23" textLength="24.77" lengthAdjust="spacingAndGlyphs">3.665</text>
<text x="317.23" y="847.79" textLength="9.54" lengthAdjust="spacingAndGlyphs" font-weight="normal" stroke="#111" stroke-width="0.3">38</text>
<text x="379.92" y="847.79" textLength="24.77" lengthAdjust="spacingAndGlyphs">1.027</text>
<text x="468.42" y="847.79" textLength="24.77" lengthAdjust="spacingAndGlyphs">0.981</text>
<text x="556.02" y="847.79" textLength="24.77" lengthAdjust="spacingAndGlyphs">0.981</text>
<text x="317.23" y="864.35" textLength="9.54" lengthAdjust="spacingAndGlyphs" font-weight="normal" stroke="#111" stroke-width="0.3">20</text>
<text x="379.92" y="864.35" textLength="24.77" lengthAdjust="spacingAndGlyphs">1.637</text>
<text x="468.42" y="864.35" textLength="24.77" lengthAdjust="spacingAndGlyphs">1.130</text>
<text x="556.02" y="864.35" textLength="24.77" lengthAdjust="spacingAndGlyphs">1.131</text>
<text x="317.23" y="880.91" textLength="9.54" lengthAdjust="spacingAndGlyphs" font-weight="normal" stroke="#111" stroke-width="0.3">68</text>
<text x="379.92" y="880.91" textLength="24.77" lengthAdjust="spacingAndGlyphs">1.988</text>
<text x="468.42" y="880.91" textLength="24.77" lengthAdjust="spacingAndGlyphs">1.500</text>
<text x="556.02" y="880.91" textLength="24.77" lengthAdjust="spacingAndGlyphs">1.496</text>
<text x="317.23" y="897.48" textLength="9.54" lengthAdjust="spacingAndGlyphs" font-weight="normal" stroke="#111" stroke-width="0.3">57</text>
<text x="379.92" y="897.48" textLength="24.77" lengthAdjust="spacingAndGlyphs">1.064</text>
<text x="468.42" y="897.48" textLength="24.77" lengthAdjust="spacingAndGlyphs">1.040</text>
<text x="556.02" y="897.48" textLength="24.77" lengthAdjust="spacingAndGlyphs">1.049</text>
<text x="317.23" y="914.04" textLength="9.54" lengthAdjust="spacingAndGlyphs" font-weight="normal" stroke="#111" stroke-width="0.3">54</text>
<text x="379.92" y="914.04" textLength="24.77" lengthAdjust="spacingAndGlyphs">1.005</text>
<text x="468.42" y="914.04" textLength="24.77" lengthAdjust="spacingAndGlyphs">0.974</text>
<text x="556.02" y="914.04" textLength="24.77" lengthAdjust="spacingAndGlyphs">1.028</text>
<text x="317.23" y="930.60" textLength="9.54" lengthAdjust="spacingAndGlyphs" font-weight="normal" stroke="#111" stroke-width="0.3">62</text>
<text x="379.92" y="930.60" textLength="24.77" lengthAdjust="spacingAndGlyphs">2.906</text>
<text x="468.42" y="930.60" textLength="24.77" lengthAdjust="spacingAndGlyphs">2.802</text>
<text x="556.02" y="930.60" textLength="24.77" lengthAdjust="spacingAndGlyphs">2.042</text>
<text x="317.23" y="947.16" textLength="9.54" lengthAdjust="spacingAndGlyphs" font-weight="normal" stroke="#111" stroke-width="0.3">28</text>
<text x="379.92" y="947.16" textLength="24.77" lengthAdjust="spacingAndGlyphs">3.151</text>
<text x="468.42" y="947.16" textLength="24.77" lengthAdjust="spacingAndGlyphs">3.366</text>
<text x="556.02" y="947.16" textLength="24.77" lengthAdjust="spacingAndGlyphs">3.457</text>
<text x="317.23" y="963.72" textLength="9.54" lengthAdjust="spacingAndGlyphs" font-weight="normal" stroke="#111" stroke-width="0.3">76</text>
<text x="379.92" y="963.72" textLength="24.77" lengthAdjust="spacingAndGlyphs">4.188</text>
<text x="468.42" y="963.72" textLength="24.77" lengthAdjust="spacingAndGlyphs">4.313</text>
<text x="556.02" y="963.72" textLength="24.77" lengthAdjust="spacingAndGlyphs">4.450</text>
<text x="317.23" y="980.29" textLength="9.54" lengthAdjust="spacingAndGlyphs" font-weight="normal" stroke="#111" stroke-width="0.3">29</text>
<text x="379.92" y="980.29" textLength="24.77" lengthAdjust="spacingAndGlyphs">2.278</text>
<text x="468.42" y="980.29" textLength="24.77" lengthAdjust="spacingAndGlyphs">2.525</text>
<text x="556.02" y="980.29" textLength="24.77" lengthAdjust="spacingAndGlyphs">2.539</text>
<text x="317.23" y="996.85" textLength="9.54" lengthAdjust="spacingAndGlyphs" font-weight="normal" stroke="#111" stroke-width="0.3">75</text>
<text x="379.92" y="996.85" textLength="24.77" lengthAdjust="spacingAndGlyphs">3.272</text>
<text x="468.42" y="996.85" textLength="24.77" lengthAdjust="spacingAndGlyphs">3.438</text>
<text x="556.02" y="996.85" textLength="24.77" lengthAdjust="spacingAndGlyphs">3.544</text>
<text x="317.23" y="1013.41" textLength="9.54" lengthAdjust="spacingAndGlyphs" font-weight="normal" stroke="#111" stroke-width="0.3">34</text>
<text x="379.92" y="1013.41" textLength="24.77" lengthAdjust="spacingAndGlyphs">1.005</text>
<text x="468.42" y="1013.41" textLength="24.77" lengthAdjust="spacingAndGlyphs">1.103</text>
<text x="556.02" y="1013.41" textLength="24.77" lengthAdjust="spacingAndGlyphs">1.038</text>
<text x="317.23" y="1029.97" textLength="9.54" lengthAdjust="spacingAndGlyphs" font-weight="normal" stroke="#111" stroke-width="0.3">31</text>
<text x="379.92" y="1029.97" textLength="24.77" lengthAdjust="spacingAndGlyphs">6.355</text>
<text x="468.42" y="1029.97" textLength="24.77" lengthAdjust="spacingAndGlyphs">6.479</text>
<text x="556.02" y="1029.97" textLength="24.77" lengthAdjust="spacingAndGlyphs">6.535</text>
<text x="322.00" y="1046.53" text-anchor="middle" font-weight="normal" stroke="#111" stroke-width="0.3">1</text>
<text x="379.92" y="1046.53" textLength="24.77" lengthAdjust="spacingAndGlyphs">6.419</text>
<text x="468.42" y="1046.53" textLength="24.77" lengthAdjust="spacingAndGlyphs">6.980</text>
<text x="556.02" y="1046.53" textLength="24.77" lengthAdjust="spacingAndGlyphs">6.740</text>
<text x="317.23" y="1063.10" textLength="9.54" lengthAdjust="spacingAndGlyphs" font-weight="normal" stroke="#111" stroke-width="0.3">32</text>
<text x="379.92" y="1063.10" textLength="24.77" lengthAdjust="spacingAndGlyphs">1.030</text>
<text x="468.42" y="1063.10" textLength="24.77" lengthAdjust="spacingAndGlyphs">1.188</text>
<text x="556.02" y="1063.10" textLength="24.77" lengthAdjust="spacingAndGlyphs">1.194</text>
<text x="317.23" y="1079.66" textLength="9.54" lengthAdjust="spacingAndGlyphs" font-weight="normal" stroke="#111" stroke-width="0.3">71</text>
<text x="379.92" y="1079.66" textLength="24.77" lengthAdjust="spacingAndGlyphs">2.862</text>
<text x="468.42" y="1079.66" textLength="24.77" lengthAdjust="spacingAndGlyphs">3.110</text>
<text x="556.02" y="1079.66" textLength="24.77" lengthAdjust="spacingAndGlyphs">3.145</text>
<text x="317.23" y="1096.22" textLength="9.54" lengthAdjust="spacingAndGlyphs" font-weight="normal" stroke="#111" stroke-width="0.3">45</text>
<text x="379.92" y="1096.22" textLength="24.77" lengthAdjust="spacingAndGlyphs">1.642</text>
<text x="468.42" y="1096.22" textLength="24.77" lengthAdjust="spacingAndGlyphs">1.798</text>
<text x="556.02" y="1096.22" textLength="24.77" lengthAdjust="spacingAndGlyphs">1.683</text>
</g>
<line x1="433.30" y1="750.80" x2="437.30" y2="1099.60" stroke="#000" stroke-width="5.0"/>
<g font-size="19.4" font-weight="bold" fill="#000">
<text x="298.40" y="742.10" textLength="47.20" lengthAdjust="spacingAndGlyphs">Gel#</text>
<text x="372.20" y="742.10" textLength="28.70" lengthAdjust="spacingAndGlyphs">KO</text>
<text x="440.00" y="742.10" textLength="69.80" lengthAdjust="spacingAndGlyphs">1A0-LE</text>
<text x="530.70" y="742.10" textLength="69.30" lengthAdjust="spacingAndGlyphs">6A4-LE</text>
</g>
</g>
<g>
<rect x="785.30" y="100.50" width="87.80" height="17.63" fill="#f8696b"/>
<rect x="872.50" y="100.50" width="88.90" height="17.63" fill="#63be7b"/>
<rect x="960.80" y="100.50" width="88.80" height="17.63" fill="#63be7b"/>
<rect x="785.30" y="117.13" width="87.80" height="17.63" fill="#f8696b"/>
<rect x="872.50" y="117.13" width="88.90" height="17.63" fill="#63be7b"/>
<rect x="960.80" y="117.13" width="88.80" height="17.63" fill="#63be7b"/>
<rect x="785.30" y="133.76" width="87.80" height="17.63" fill="#f8696b"/>
<rect x="872.50" y="133.76" width="88.90" height="17.63" fill="#82c77d"/>
<rect x="960.80" y="133.76" width="88.80" height="17.63" fill="#63be7b"/>
<rect x="785.30" y="150.39" width="87.80" height="17.63" fill="#f8696b"/>
<rect x="872.50" y="150.39" width="88.90" height="17.63" fill="#fb9d75"/>
<rect x="960.80" y="150.39" width="88.80" height="17.63" fill="#ffeb84"/>
<rect x="785.30" y="167.03" width="87.80" height="17.63" fill="#f8696b"/>
<rect x="872.50" y="167.03" width="88.90" height="17.63" fill="#fdc47c"/>
<rect x="960.80" y="167.03" width="88.80" height="17.63" fill="#e0e282"/>
<rect x="785.30" y="183.66" width="87.80" height="17.63" fill="#f8696b"/>
<rect x="872.50" y="183.66" width="88.90" height="17.63" fill="#ffeb84"/>
<rect x="960.80" y="183.66" width="88.80" height="17.63" fill="#ffeb84"/>
<rect x="785.30" y="200.29" width="87.80" height="17.63" fill="#f8696b"/>
<rect x="872.50" y="200.29" width="88.90" height="17.63" fill="#ffeb84"/>
<rect x="960.80" y="200.29" width="88.80" height="17.63" fill="#ffeb84"/>
<rect x="785.30" y="216.92" width="87.80" height="17.63" fill="#fa9072"/>
<rect x="872.50" y="216.92" width="88.90" height="17.63" fill="#ffeb84"/>
<rect x="960.80" y="216.92" width="88.80" height="17.63" fill="#e0e282"/>
<rect x="785.30" y="233.55" width="87.80" height="17.63" fill="#fb9d75"/>
<rect x="872.50" y="233.55" width="88.90" height="17.63" fill="#b1d480"/>
<rect x="960.80" y="233.55" width="88.80" height="17.63" fill="#c1d980"/>
<rect x="785.30" y="250.18" width="87.80" height="17.63" fill="#fb9d75"/>
<rect x="872.50" y="250.18" width="88.90" height="17.63" fill="#ffeb84"/>
<rect x="960.80" y="250.18" width="88.80" height="17.63" fill="#63be7b"/>
<rect x="785.30" y="266.82" width="87.80" height="17.63" fill="#fb9d75"/>
<rect x="872.50" y="266.82" width="88.90" height="17.63" fill="#c1d980"/>
<rect x="960.80" y="266.82" width="88.80" height="17.63" fill="#d0de81"/>
<rect x="785.30" y="283.45" width="87.80" height="17.63" fill="#fdc47c"/>
<rect x="872.50" y="283.45" width="88.90" height="17.63" fill="#ffeb84"/>
<rect x="960.80" y="283.45" width="88.80" height="17.63" fill="#fede82"/>
<rect x="785.30" y="300.08" width="87.80" height="17.63" fill="#fed17f"/>
<rect x="872.50" y="300.08" width="88.90" height="17.63" fill="#f8696b"/>
<rect x="960.80" y="300.08" width="88.80" height="17.63" fill="#fcb77a"/>
<rect x="785.30" y="316.71" width="87.80" height="17.63" fill="#ffeb84"/>
<rect x="872.50" y="316.71" width="88.90" height="17.63" fill="#fcb77a"/>
<rect x="960.80" y="316.71" width="88.80" height="17.63" fill="#a1d07f"/>
<rect x="785.30" y="333.34" width="87.80" height="17.63" fill="#e0e282"/>
<rect x="872.50" y="333.34" width="88.90" height="17.63" fill="#fdc47c"/>
<rect x="960.80" y="333.34" width="88.80" height="17.63" fill="#fb9d75"/>
<rect x="785.30" y="349.97" width="87.80" height="17.63" fill="#e0e282"/>
<rect x="872.50" y="349.97" width="88.90" height="17.63" fill="#f8696b"/>
<rect x="960.80" y="349.97" width="88.80" height="17.63" fill="#fdc47c"/>
<rect x="785.30" y="366.61" width="87.80" height="17.63" fill="#e0e282"/>
<rect x="872.50" y="366.61" width="88.90" height="17.63" fill="#fed17f"/>
<rect x="960.80" y="366.61" width="88.80" height="17.63" fill="#b1d480"/>
<rect x="785.30" y="383.24" width="87.80" height="17.63" fill="#e0e282"/>
<rect x="872.50" y="383.24" width="88.90" height="17.63" fill="#f98370"/>
<rect x="960.80" y="383.24" width="88.80" height="17.63" fill="#fed17f"/>
<rect x="785.30" y="399.87" width="87.80" height="16.63" fill="#c1d980"/>
<rect x="872.50" y="399.87" width="88.90" height="16.63" fill="#fcb77a"/>
<rect x="960.80" y="399.87" width="88.80" height="16.63" fill="#fdc47c"/>
<rect x="735.70" y="100.50" width="49.60" height="316.00" fill="#fff" stroke="#d0d7e5" stroke-width="1"/>
<line x1="735.70" y1="117.13" x2="785.30" y2="117.13" stroke="#d0d7e5" stroke-width="1"/>
<line x1="735.70" y1="133.76" x2="785.30" y2="133.76" stroke="#d0d7e5" stroke-width="1"/>
<line x1="735.70" y1="150.39" x2="785.30" y2="150.39" stroke="#d0d7e5" stroke-width="1"/>
<line x1="735.70" y1="167.03" x2="785.30" y2="167.03" stroke="#d0d7e5" stroke-width="1"/>
<line x1="735.70" y1="183.66" x2="785.30" y2="183.66" stroke="#d0d7e5" stroke-width="1"/>
<line x1="735.70" y1="200.29" x2="785.30" y2="200.29" stroke="#d0d7e5" stroke-width="1"/>
<line x1="735.70" y1="216.92" x2="785.30" y2="216.92" stroke="#d0d7e5" stroke-width="1"/>
<line x1="735.70" y1="233.55" x2="785.30" y2="233.55" stroke="#d0d7e5" stroke-width="1"/>
<line x1="735.70" y1="250.18" x2="785.30" y2="250.18" stroke="#d0d7e5" stroke-width="1"/>
<line x1="735.70" y1="266.82" x2="785.30" y2="266.82" stroke="#d0d7e5" stroke-width="1"/>
<line x1="735.70" y1="283.45" x2="785.30" y2="283.45" stroke="#d0d7e5" stroke-width="1"/>
<line x1="735.70" y1="300.08" x2="785.30" y2="300.08" stroke="#d0d7e5" stroke-width="1"/>
<line x1="735.70" y1="316.71" x2="785.30" y2="316.71" stroke="#d0d7e5" stroke-width="1"/>
<line x1="735.70" y1="333.34" x2="785.30" y2="333.34" stroke="#d0d7e5" stroke-width="1"/>
<line x1="735.70" y1="349.97" x2="785.30" y2="349.97" stroke="#d0d7e5" stroke-width="1"/>
<line x1="735.70" y1="366.61" x2="785.30" y2="366.61" stroke="#d0d7e5" stroke-width="1"/>
<line x1="735.70" y1="383.24" x2="785.30" y2="383.24" stroke="#d0d7e5" stroke-width="1"/>
<line x1="735.70" y1="399.87" x2="785.30" y2="399.87" stroke="#d0d7e5" stroke-width="1"/>
<g font-size="11.2" font-weight="bold">
<text x="756.20" y="113.72" textLength="11.21" lengthAdjust="spacingAndGlyphs" font-weight="normal" stroke="#111" stroke-width="0.3">11</text>
<text x="818.59" y="113.72" textLength="25.22" lengthAdjust="spacingAndGlyphs">1.093</text>
<text x="904.99" y="113.72" textLength="25.22" lengthAdjust="spacingAndGlyphs">0.866</text>
<text x="992.79" y="113.72" textLength="25.22" lengthAdjust="spacingAndGlyphs">0.864</text>
<text x="756.20" y="130.35" textLength="11.21" lengthAdjust="spacingAndGlyphs" font-weight="normal" stroke="#111" stroke-width="0.3">14</text>
<text x="818.59" y="130.35" textLength="25.22" lengthAdjust="spacingAndGlyphs">1.079</text>
<text x="904.99" y="130.35" textLength="25.22" lengthAdjust="spacingAndGlyphs">0.822</text>
<text x="992.79" y="130.35" textLength="25.22" lengthAdjust="spacingAndGlyphs">0.816</text>
<text x="756.20" y="146.98" textLength="11.21" lengthAdjust="spacingAndGlyphs" font-weight="normal" stroke="#111" stroke-width="0.3">36</text>
<text x="818.59" y="146.98" textLength="25.22" lengthAdjust="spacingAndGlyphs">2.197</text>
<text x="904.99" y="146.98" textLength="25.22" lengthAdjust="spacingAndGlyphs">1.574</text>
<text x="992.79" y="146.98" textLength="25.22" lengthAdjust="spacingAndGlyphs">1.508</text>
<text x="756.20" y="163.61" textLength="11.21" lengthAdjust="spacingAndGlyphs" font-weight="normal" stroke="#111" stroke-width="0.3">19</text>
<text x="818.59" y="163.61" textLength="25.22" lengthAdjust="spacingAndGlyphs">2.170</text>
<text x="904.99" y="163.61" textLength="25.22" lengthAdjust="spacingAndGlyphs">2.132</text>
<text x="992.79" y="163.61" textLength="25.22" lengthAdjust="spacingAndGlyphs">2.084</text>
<text x="756.20" y="180.24" textLength="11.21" lengthAdjust="spacingAndGlyphs" font-weight="normal" stroke="#111" stroke-width="0.3">35</text>
<text x="818.59" y="180.24" textLength="25.22" lengthAdjust="spacingAndGlyphs">4.061</text>
<text x="904.99" y="180.24" textLength="25.22" lengthAdjust="spacingAndGlyphs">3.799</text>
<text x="992.79" y="180.24" textLength="25.22" lengthAdjust="spacingAndGlyphs">3.665</text>
<text x="756.20" y="196.87" textLength="11.21" lengthAdjust="spacingAndGlyphs" font-weight="normal" stroke="#111" stroke-width="0.3">38</text>
<text x="818.59" y="196.87" textLength="25.22" lengthAdjust="spacingAndGlyphs">1.027</text>
<text x="904.99" y="196.87" textLength="25.22" lengthAdjust="spacingAndGlyphs">0.981</text>
<text x="992.79" y="196.87" textLength="25.22" lengthAdjust="spacingAndGlyphs">0.981</text>
<text x="756.20" y="213.51" textLength="11.21" lengthAdjust="spacingAndGlyphs" font-weight="normal" stroke="#111" stroke-width="0.3">55</text>
<text x="818.59" y="213.51" textLength="25.22" lengthAdjust="spacingAndGlyphs">3.725</text>
<text x="904.99" y="213.51" textLength="25.22" lengthAdjust="spacingAndGlyphs">3.403</text>
<text x="992.79" y="213.51" textLength="25.22" lengthAdjust="spacingAndGlyphs">3.418</text>
<text x="756.20" y="230.14" textLength="11.21" lengthAdjust="spacingAndGlyphs" font-weight="normal" stroke="#111" stroke-width="0.3">59</text>
<text x="818.59" y="230.14" textLength="25.22" lengthAdjust="spacingAndGlyphs">3.951</text>
<text x="904.99" y="230.14" textLength="25.22" lengthAdjust="spacingAndGlyphs">3.667</text>
<text x="992.79" y="230.14" textLength="25.22" lengthAdjust="spacingAndGlyphs">3.655</text>
<text x="756.20" y="246.77" textLength="11.21" lengthAdjust="spacingAndGlyphs" font-weight="normal" stroke="#111" stroke-width="0.3">56</text>
<text x="818.59" y="246.77" textLength="25.22" lengthAdjust="spacingAndGlyphs">1.920</text>
<text x="904.99" y="246.77" textLength="25.22" lengthAdjust="spacingAndGlyphs">1.459</text>
<text x="992.79" y="246.77" textLength="25.22" lengthAdjust="spacingAndGlyphs">1.491</text>
<text x="756.20" y="263.40" textLength="11.21" lengthAdjust="spacingAndGlyphs" font-weight="normal" stroke="#111" stroke-width="0.3">66</text>
<text x="818.59" y="263.40" textLength="25.22" lengthAdjust="spacingAndGlyphs">1.885</text>
<text x="904.99" y="263.40" textLength="25.22" lengthAdjust="spacingAndGlyphs">1.754</text>
<text x="992.79" y="263.40" textLength="25.22" lengthAdjust="spacingAndGlyphs">1.726</text>
<text x="756.20" y="280.03" textLength="11.21" lengthAdjust="spacingAndGlyphs" font-weight="normal" stroke="#111" stroke-width="0.3">21</text>
<text x="818.59" y="280.03" textLength="25.22" lengthAdjust="spacingAndGlyphs">2.037</text>
<text x="904.99" y="280.03" textLength="25.22" lengthAdjust="spacingAndGlyphs">1.959</text>
<text x="992.79" y="280.03" textLength="25.22" lengthAdjust="spacingAndGlyphs">1.967</text>
<text x="756.20" y="296.66" textLength="11.21" lengthAdjust="spacingAndGlyphs" font-weight="normal" stroke="#111" stroke-width="0.3">57</text>
<text x="818.59" y="296.66" textLength="25.22" lengthAdjust="spacingAndGlyphs">1.064</text>
<text x="904.99" y="296.66" textLength="25.22" lengthAdjust="spacingAndGlyphs">1.040</text>
<text x="992.79" y="296.66" textLength="25.22" lengthAdjust="spacingAndGlyphs">1.049</text>
<text x="756.20" y="313.29" textLength="11.21" lengthAdjust="spacingAndGlyphs" font-weight="normal" stroke="#111" stroke-width="0.3">37</text>
<text x="818.59" y="313.29" textLength="25.22" lengthAdjust="spacingAndGlyphs">4.035</text>
<text x="904.99" y="313.29" textLength="25.22" lengthAdjust="spacingAndGlyphs">4.310</text>
<text x="992.79" y="313.29" textLength="25.22" lengthAdjust="spacingAndGlyphs">4.123</text>
<text x="756.20" y="329.93" textLength="11.21" lengthAdjust="spacingAndGlyphs" font-weight="normal" stroke="#111" stroke-width="0.3">58</text>
<text x="818.59" y="329.93" textLength="25.22" lengthAdjust="spacingAndGlyphs">3.733</text>
<text x="904.99" y="329.93" textLength="25.22" lengthAdjust="spacingAndGlyphs">3.876</text>
<text x="992.79" y="329.93" textLength="25.22" lengthAdjust="spacingAndGlyphs">3.447</text>
<text x="756.20" y="346.56" textLength="11.21" lengthAdjust="spacingAndGlyphs" font-weight="normal" stroke="#111" stroke-width="0.3">75</text>
<text x="818.59" y="346.56" textLength="25.22" lengthAdjust="spacingAndGlyphs">3.272</text>
<text x="904.99" y="346.56" textLength="25.22" lengthAdjust="spacingAndGlyphs">3.438</text>
<text x="992.79" y="346.56" textLength="25.22" lengthAdjust="spacingAndGlyphs">3.544</text>
<text x="756.20" y="363.19" textLength="11.21" lengthAdjust="spacingAndGlyphs" font-weight="normal" stroke="#111" stroke-width="0.3">34</text>
<text x="818.59" y="363.19" textLength="25.22" lengthAdjust="spacingAndGlyphs">1.005</text>
<text x="904.99" y="363.19" textLength="25.22" lengthAdjust="spacingAndGlyphs">1.103</text>
<text x="992.79" y="363.19" textLength="25.22" lengthAdjust="spacingAndGlyphs">1.038</text>
<text x="756.20" y="379.82" textLength="11.21" lengthAdjust="spacingAndGlyphs" font-weight="normal" stroke="#111" stroke-width="0.3">22</text>
<text x="818.59" y="379.82" textLength="25.22" lengthAdjust="spacingAndGlyphs">2.318</text>
<text x="904.99" y="379.82" textLength="25.22" lengthAdjust="spacingAndGlyphs">2.491</text>
<text x="992.79" y="379.82" textLength="25.22" lengthAdjust="spacingAndGlyphs">2.244</text>
<text x="756.20" y="396.45" textLength="11.21" lengthAdjust="spacingAndGlyphs" font-weight="normal" stroke="#111" stroke-width="0.3">15</text>
<text x="818.59" y="396.45" textLength="25.22" lengthAdjust="spacingAndGlyphs">2.186</text>
<text x="904.99" y="396.45" textLength="25.22" lengthAdjust="spacingAndGlyphs">2.584</text>
<text x="992.79" y="396.45" textLength="25.22" lengthAdjust="spacingAndGlyphs">2.320</text>
<text x="756.20" y="413.08" textLength="11.21" lengthAdjust="spacingAndGlyphs" font-weight="normal" stroke="#111" stroke-width="0.3">24</text>
<text x="818.59" y="413.08" textLength="25.22" lengthAdjust="spacingAndGlyphs">1.881</text>
<text x="904.99" y="413.08" textLength="25.22" lengthAdjust="spacingAndGlyphs">1.955</text>
<text x="992.79" y="413.08" textLength="25.22" lengthAdjust="spacingAndGlyphs">1.923</text>
</g>
<line x1="872.40" y1="101.60" x2="874.70" y2="416.50" stroke="#000" stroke-width="5.5"/>
<g font-size="19.4" font-weight="bold" fill="#000">
<text x="738.40" y="92.70" textLength="47.20" lengthAdjust="spacingAndGlyphs">Gel#</text>
<text x="818.40" y="92.70" textLength="28.70" lengthAdjust="spacingAndGlyphs">KO</text>
<text x="884.60" y="92.70" textLength="69.30" lengthAdjust="spacingAndGlyphs">1A0-LE</text>
<text x="970.70" y="92.70" textLength="69.30" lengthAdjust="spacingAndGlyphs">6A4-LE</text>
</g>
</g>
<g>
<rect x="790.60" y="484.40" width="86.00" height="17.58" fill="#f8696b"/>
<rect x="876.00" y="484.40" width="88.10" height="17.58" fill="#63be7b"/>
<rect x="963.50" y="484.40" width="88.80" height="17.58" fill="#63be7b"/>
<rect x="790.60" y="500.98" width="86.00" height="17.58" fill="#f8696b"/>
<rect x="876.00" y="500.98" width="88.10" height="17.58" fill="#63be7b"/>
<rect x="963.50" y="500.98" width="88.80" height="17.58" fill="#82c77d"/>
<rect x="790.60" y="517.56" width="86.00" height="17.58" fill="#f8696b"/>
<rect x="876.00" y="517.56" width="88.10" height="17.58" fill="#63be7b"/>
<rect x="963.50" y="517.56" width="88.80" height="17.58" fill="#c1d980"/>
<rect x="790.60" y="534.14" width="86.00" height="17.58" fill="#f8696b"/>
<rect x="876.00" y="534.14" width="88.10" height="17.58" fill="#82c77d"/>
<rect x="963.50" y="534.14" width="88.80" height="17.58" fill="#63be7b"/>
<rect x="790.60" y="550.72" width="86.00" height="17.58" fill="#f8696b"/>
<rect x="876.00" y="550.72" width="88.10" height="17.58" fill="#b1d480"/>
<rect x="963.50" y="550.72" width="88.80" height="17.58" fill="#c1d980"/>
<rect x="790.60" y="567.30" width="86.00" height="17.58" fill="#f8696b"/>
<rect x="876.00" y="567.30" width="88.10" height="17.58" fill="#fdc47c"/>
<rect x="963.50" y="567.30" width="88.80" height="17.58" fill="#e0e282"/>
<rect x="790.60" y="583.89" width="86.00" height="17.58" fill="#f8696b"/>
<rect x="876.00" y="583.89" width="88.10" height="17.58" fill="#ffeb84"/>
<rect x="963.50" y="583.89" width="88.80" height="17.58" fill="#ffeb84"/>
<rect x="790.60" y="600.47" width="86.00" height="17.58" fill="#f98370"/>
<rect x="876.00" y="600.47" width="88.10" height="17.58" fill="#b1d480"/>
<rect x="963.50" y="600.47" width="88.80" height="17.58" fill="#f9766e"/>
<rect x="790.60" y="617.05" width="86.00" height="17.58" fill="#f98370"/>
<rect x="876.00" y="617.05" width="88.10" height="17.58" fill="#f9766e"/>
<rect x="963.50" y="617.05" width="88.80" height="17.58" fill="#e0e282"/>
<rect x="790.60" y="633.63" width="86.00" height="17.58" fill="#fcb77a"/>
<rect x="876.00" y="633.63" width="88.10" height="17.58" fill="#efe683"/>
<rect x="963.50" y="633.63" width="88.80" height="17.58" fill="#fa9072"/>
<rect x="790.60" y="650.21" width="86.00" height="17.58" fill="#fcb77a"/>
<rect x="876.00" y="650.21" width="88.10" height="17.58" fill="#63be7b"/>
<rect x="963.50" y="650.21" width="88.80" height="17.58" fill="#73c27c"/>
<rect x="790.60" y="666.79" width="86.00" height="17.58" fill="#fed480"/>
<rect x="876.00" y="666.79" width="88.10" height="17.58" fill="#f8696b"/>
<rect x="963.50" y="666.79" width="88.80" height="17.58" fill="#fcb77a"/>
<rect x="790.60" y="683.37" width="86.00" height="17.58" fill="#fed980"/>
<rect x="876.00" y="683.37" width="88.10" height="17.58" fill="#d0de81"/>
<rect x="963.50" y="683.37" width="88.80" height="17.58" fill="#fede82"/>
<rect x="790.60" y="699.95" width="86.00" height="17.58" fill="#f6e883"/>
<rect x="876.00" y="699.95" width="88.10" height="17.58" fill="#ffeb84"/>
<rect x="963.50" y="699.95" width="88.80" height="17.58" fill="#efe683"/>
<rect x="790.60" y="716.53" width="86.00" height="17.58" fill="#e9e583"/>
<rect x="876.00" y="716.53" width="88.10" height="17.58" fill="#fed17f"/>
<rect x="963.50" y="716.53" width="88.80" height="17.58" fill="#f8696b"/>
<rect x="790.60" y="733.11" width="86.00" height="17.58" fill="#e6e483"/>
<rect x="876.00" y="733.11" width="88.10" height="17.58" fill="#fcaa78"/>
<rect x="963.50" y="733.11" width="88.80" height="17.58" fill="#f8696b"/>
<rect x="790.60" y="749.70" width="86.00" height="17.58" fill="#dde182"/>
<rect x="876.00" y="749.70" width="88.10" height="17.58" fill="#f8696b"/>
<rect x="963.50" y="749.70" width="88.80" height="17.58" fill="#fed17f"/>
<rect x="790.60" y="766.28" width="86.00" height="17.58" fill="#dde182"/>
<rect x="876.00" y="766.28" width="88.10" height="17.58" fill="#fb9d75"/>
<rect x="963.50" y="766.28" width="88.80" height="17.58" fill="#e0e282"/>
<rect x="790.60" y="782.86" width="86.00" height="17.58" fill="#c1d980"/>
<rect x="876.00" y="782.86" width="88.10" height="17.58" fill="#fcb77a"/>
<rect x="963.50" y="782.86" width="88.80" height="17.58" fill="#fed17f"/>
<rect x="790.60" y="799.44" width="86.00" height="17.58" fill="#73c27c"/>
<rect x="876.00" y="799.44" width="88.10" height="17.58" fill="#e0e282"/>
<rect x="963.50" y="799.44" width="88.80" height="17.58" fill="#fede82"/>
<rect x="790.60" y="816.02" width="86.00" height="16.58" fill="#73c27c"/>
<rect x="876.00" y="816.02" width="88.10" height="16.58" fill="#fcb77a"/>
<rect x="963.50" y="816.02" width="88.80" height="16.58" fill="#d0de81"/>
<rect x="739.00" y="484.40" width="51.60" height="348.20" fill="#fff" stroke="#d0d7e5" stroke-width="1"/>
<line x1="739.00" y1="500.98" x2="790.60" y2="500.98" stroke="#d0d7e5" stroke-width="1"/>
<line x1="739.00" y1="517.56" x2="790.60" y2="517.56" stroke="#d0d7e5" stroke-width="1"/>
<line x1="739.00" y1="534.14" x2="790.60" y2="534.14" stroke="#d0d7e5" stroke-width="1"/>
<line x1="739.00" y1="550.72" x2="790.60" y2="550.72" stroke="#d0d7e5" stroke-width="1"/>
<line x1="739.00" y1="567.30" x2="790.60" y2="567.30" stroke="#d0d7e5" stroke-width="1"/>
<line x1="739.00" y1="583.89" x2="790.60" y2="583.89" stroke="#d0d7e5" stroke-width="1"/>
<line x1="739.00" y1="600.47" x2="790.60" y2="600.47" stroke="#d0d7e5" stroke-width="1"/>
<line x1="739.00" y1="617.05" x2="790.60" y2="617.05" stroke="#d0d7e5" stroke-width="1"/>
<line x1="739.00" y1="633.63" x2="790.60" y2="633.63" stroke="#d0d7e5" stroke-width="1"/>
<line x1="739.00" y1="650.21" x2="790.60" y2="650.21" stroke="#d0d7e5" stroke-width="1"/>
<line x1="739.00" y1="666.79" x2="790.60" y2="666.79" stroke="#d0d7e5" stroke-width="1"/>
<line x1="739.00" y1="683.37" x2="790.60" y2="683.37" stroke="#d0d7e5" stroke-width="1"/>
<line x1="739.00" y1="699.95" x2="790.60" y2="699.95" stroke="#d0d7e5" stroke-width="1"/>
<line x1="739.00" y1="716.53" x2="790.60" y2="716.53" stroke="#d0d7e5" stroke-width="1"/>
<line x1="739.00" y1="733.11" x2="790.60" y2="733.11" stroke="#d0d7e5" stroke-width="1"/>
<line x1="739.00" y1="749.70" x2="790.60" y2="749.70" stroke="#d0d7e5" stroke-width="1"/>
<line x1="739.00" y1="766.28" x2="790.60" y2="766.28" stroke="#d0d7e5" stroke-width="1"/>
<line x1="739.00" y1="782.86" x2="790.60" y2="782.86" stroke="#d0d7e5" stroke-width="1"/>
<line x1="739.00" y1="799.44" x2="790.60" y2="799.44" stroke="#d0d7e5" stroke-width="1"/>
<line x1="739.00" y1="816.02" x2="790.60" y2="816.02" stroke="#d0d7e5" stroke-width="1"/>
<g font-size="11.5" font-weight="bold">
<text x="765.70" y="497.59" text-anchor="middle">7</text>
<text x="821.75" y="497.59" textLength="25.90" lengthAdjust="spacingAndGlyphs">0.966</text>
<text x="907.75" y="497.59" textLength="25.90" lengthAdjust="spacingAndGlyphs">0.925</text>
<text x="995.25" y="497.59" textLength="25.90" lengthAdjust="spacingAndGlyphs">0.923</text>
<text x="759.95" y="514.17" textLength="11.51" lengthAdjust="spacingAndGlyphs">18</text>
<text x="821.75" y="514.17" textLength="25.90" lengthAdjust="spacingAndGlyphs">0.464</text>
<text x="907.75" y="514.17" textLength="25.90" lengthAdjust="spacingAndGlyphs">0.078</text>
<text x="995.25" y="514.17" textLength="25.90" lengthAdjust="spacingAndGlyphs">0.091</text>
<text x="759.95" y="530.75" textLength="11.51" lengthAdjust="spacingAndGlyphs">17</text>
<text x="821.75" y="530.75" textLength="25.90" lengthAdjust="spacingAndGlyphs">0.877</text>
<text x="907.75" y="530.75" textLength="25.90" lengthAdjust="spacingAndGlyphs">0.463</text>
<text x="995.25" y="530.75" textLength="25.90" lengthAdjust="spacingAndGlyphs">0.531</text>
<text x="759.95" y="547.33" textLength="11.51" lengthAdjust="spacingAndGlyphs">36</text>
<text x="821.75" y="547.33" textLength="25.90" lengthAdjust="spacingAndGlyphs">2.197</text>
<text x="907.75" y="547.33" textLength="25.90" lengthAdjust="spacingAndGlyphs">1.574</text>
<text x="995.25" y="547.33" textLength="25.90" lengthAdjust="spacingAndGlyphs">1.508</text>
<text x="759.95" y="563.91" textLength="11.51" lengthAdjust="spacingAndGlyphs">73</text>
<text x="821.75" y="563.91" textLength="25.90" lengthAdjust="spacingAndGlyphs">2.627</text>
<text x="907.75" y="563.91" textLength="25.90" lengthAdjust="spacingAndGlyphs">1.292</text>
<text x="995.25" y="563.91" textLength="25.90" lengthAdjust="spacingAndGlyphs">1.355</text>
<text x="759.95" y="580.50" textLength="11.51" lengthAdjust="spacingAndGlyphs">35</text>
<text x="821.75" y="580.50" textLength="25.90" lengthAdjust="spacingAndGlyphs">4.061</text>
<text x="907.75" y="580.50" textLength="25.90" lengthAdjust="spacingAndGlyphs">3.799</text>
<text x="995.25" y="580.50" textLength="25.90" lengthAdjust="spacingAndGlyphs">3.665</text>
<text x="759.95" y="597.08" textLength="11.51" lengthAdjust="spacingAndGlyphs">38</text>
<text x="821.75" y="597.08" textLength="25.90" lengthAdjust="spacingAndGlyphs">1.027</text>
<text x="907.75" y="597.08" textLength="25.90" lengthAdjust="spacingAndGlyphs">0.981</text>
<text x="995.25" y="597.08" textLength="25.90" lengthAdjust="spacingAndGlyphs">0.981</text>
<text x="759.95" y="613.66" textLength="11.51" lengthAdjust="spacingAndGlyphs">16</text>
<text x="821.75" y="613.66" textLength="25.90" lengthAdjust="spacingAndGlyphs">1.135</text>
<text x="907.75" y="613.66" textLength="25.90" lengthAdjust="spacingAndGlyphs">0.977</text>
<text x="995.25" y="613.66" textLength="25.90" lengthAdjust="spacingAndGlyphs">1.151</text>
<text x="759.95" y="630.24" textLength="11.51" lengthAdjust="spacingAndGlyphs">72</text>
<text x="821.75" y="630.24" textLength="25.90" lengthAdjust="spacingAndGlyphs">1.993</text>
<text x="907.75" y="630.24" textLength="25.90" lengthAdjust="spacingAndGlyphs">2.004</text>
<text x="995.25" y="630.24" textLength="25.90" lengthAdjust="spacingAndGlyphs">1.876</text>
<text x="759.95" y="646.82" textLength="11.51" lengthAdjust="spacingAndGlyphs">40</text>
<text x="821.75" y="646.82" textLength="25.90" lengthAdjust="spacingAndGlyphs">1.208</text>
<text x="907.75" y="646.82" textLength="25.90" lengthAdjust="spacingAndGlyphs">1.094</text>
<text x="995.25" y="646.82" textLength="25.90" lengthAdjust="spacingAndGlyphs">1.268</text>
<text x="759.95" y="663.40" textLength="11.51" lengthAdjust="spacingAndGlyphs">53</text>
<text x="821.75" y="663.40" textLength="25.90" lengthAdjust="spacingAndGlyphs">1.141</text>
<text x="907.75" y="663.40" textLength="25.90" lengthAdjust="spacingAndGlyphs">0.977</text>
<text x="995.25" y="663.40" textLength="25.90" lengthAdjust="spacingAndGlyphs">0.994</text>
<text x="759.95" y="679.98" textLength="11.51" lengthAdjust="spacingAndGlyphs">37</text>
<text x="821.75" y="679.98" textLength="25.90" lengthAdjust="spacingAndGlyphs">4.035</text>
<text x="907.75" y="679.98" textLength="25.90" lengthAdjust="spacingAndGlyphs">4.310</text>
<text x="995.25" y="679.98" textLength="25.90" lengthAdjust="spacingAndGlyphs">4.123</text>
<text x="765.70" y="696.56" text-anchor="middle">6</text>
<text x="821.75" y="696.56" textLength="25.90" lengthAdjust="spacingAndGlyphs">2.197</text>
<text x="907.75" y="696.56" textLength="25.90" lengthAdjust="spacingAndGlyphs">2.157</text>
<text x="995.25" y="696.56" textLength="25.90" lengthAdjust="spacingAndGlyphs">2.188</text>
<text x="759.95" y="713.14" textLength="11.51" lengthAdjust="spacingAndGlyphs">42</text>
<text x="821.75" y="713.14" textLength="25.90" lengthAdjust="spacingAndGlyphs">1.004</text>
<text x="907.75" y="713.14" textLength="25.90" lengthAdjust="spacingAndGlyphs">1.030</text>
<text x="995.25" y="713.14" textLength="25.90" lengthAdjust="spacingAndGlyphs">0.989</text>
<text x="765.70" y="729.72" text-anchor="middle">5</text>
<text x="821.75" y="729.72" textLength="25.90" lengthAdjust="spacingAndGlyphs">7.290</text>
<text x="907.75" y="729.72" textLength="25.90" lengthAdjust="spacingAndGlyphs">7.440</text>
<text x="995.25" y="729.72" textLength="25.90" lengthAdjust="spacingAndGlyphs">7.786</text>
<text x="759.95" y="746.30" textLength="11.51" lengthAdjust="spacingAndGlyphs">76</text>
<text x="821.75" y="746.30" textLength="25.90" lengthAdjust="spacingAndGlyphs">4.188</text>
<text x="907.75" y="746.30" textLength="25.90" lengthAdjust="spacingAndGlyphs">4.313</text>
<text x="995.25" y="746.30" textLength="25.90" lengthAdjust="spacingAndGlyphs">4.450</text>
<text x="759.95" y="762.89" textLength="11.51" lengthAdjust="spacingAndGlyphs">34</text>
<text x="821.75" y="762.89" textLength="25.90" lengthAdjust="spacingAndGlyphs">1.005</text>
<text x="907.75" y="762.89" textLength="25.90" lengthAdjust="spacingAndGlyphs">1.103</text>
<text x="995.25" y="762.89" textLength="25.90" lengthAdjust="spacingAndGlyphs">1.038</text>
<text x="759.95" y="779.47" textLength="11.51" lengthAdjust="spacingAndGlyphs">25</text>
<text x="821.75" y="779.47" textLength="25.90" lengthAdjust="spacingAndGlyphs">1.687</text>
<text x="907.75" y="779.47" textLength="25.90" lengthAdjust="spacingAndGlyphs">1.814</text>
<text x="995.25" y="779.47" textLength="25.90" lengthAdjust="spacingAndGlyphs">1.678</text>
<text x="759.95" y="796.05" textLength="11.51" lengthAdjust="spacingAndGlyphs">24</text>
<text x="821.75" y="796.05" textLength="25.90" lengthAdjust="spacingAndGlyphs">1.881</text>
<text x="907.75" y="796.05" textLength="25.90" lengthAdjust="spacingAndGlyphs">1.955</text>
<text x="995.25" y="796.05" textLength="25.90" lengthAdjust="spacingAndGlyphs">1.923</text>
<text x="765.70" y="812.63" text-anchor="middle">2</text>
<text x="821.75" y="812.63" textLength="25.90" lengthAdjust="spacingAndGlyphs">0.958</text>
<text x="907.75" y="812.63" textLength="25.90" lengthAdjust="spacingAndGlyphs">1.007</text>
<text x="995.25" y="812.63" textLength="25.90" lengthAdjust="spacingAndGlyphs">1.037</text>
<text x="759.95" y="829.21" textLength="11.51" lengthAdjust="spacingAndGlyphs">39</text>
<text x="821.75" y="829.21" textLength="25.90" lengthAdjust="spacingAndGlyphs">3.668</text>
<text x="907.75" y="829.21" textLength="25.90" lengthAdjust="spacingAndGlyphs">3.935</text>
<text x="995.25" y="829.21" textLength="25.90" lengthAdjust="spacingAndGlyphs">3.811</text>
</g>
<line x1="875.80" y1="486.00" x2="875.80" y2="832.60" stroke="#000" stroke-width="5.5"/>
<g font-size="19.4" font-weight="bold" fill="#000">
<text x="742.10" y="474.80" textLength="47.20" lengthAdjust="spacingAndGlyphs">Gel#</text>
<text x="816.30" y="474.80" textLength="28.30" lengthAdjust="spacingAndGlyphs">KO</text>
<text x="884.00" y="474.80" textLength="68.30" lengthAdjust="spacingAndGlyphs">1A0-LE</text>
<text x="969.20" y="474.80" textLength="69.30" lengthAdjust="spacingAndGlyphs">6A4-LE</text>
</g>
</g>
<g>
<rect x="790.30" y="930.40" width="89.30" height="17.33" fill="#f8696b"/>
<rect x="879.00" y="930.40" width="86.90" height="17.33" fill="#fcaa78"/>
<rect x="965.30" y="930.40" width="89.20" height="17.33" fill="#fcaa78"/>
<rect x="790.30" y="946.73" width="89.30" height="17.33" fill="#fcb77a"/>
<rect x="879.00" y="946.73" width="86.90" height="17.33" fill="#63be7b"/>
<rect x="965.30" y="946.73" width="89.20" height="17.33" fill="#73c27c"/>
<rect x="790.30" y="963.05" width="89.30" height="17.33" fill="#ffeb84"/>
<rect x="879.00" y="963.05" width="86.90" height="17.33" fill="#ffeb84"/>
<rect x="965.30" y="963.05" width="89.20" height="17.33" fill="#f6e883"/>
<rect x="790.30" y="979.38" width="89.30" height="17.33" fill="#ffeb84"/>
<rect x="879.00" y="979.38" width="86.90" height="17.33" fill="#f8696b"/>
<rect x="965.30" y="979.38" width="89.20" height="17.33" fill="#e0e282"/>
<rect x="790.30" y="995.70" width="89.30" height="17.33" fill="#e0e282"/>
<rect x="879.00" y="995.70" width="86.90" height="17.33" fill="#fb9d75"/>
<rect x="965.30" y="995.70" width="89.20" height="17.33" fill="#e0e282"/>
<rect x="790.30" y="1012.02" width="89.30" height="17.33" fill="#c1d980"/>
<rect x="879.00" y="1012.02" width="86.90" height="17.33" fill="#fb9d75"/>
<rect x="965.30" y="1012.02" width="89.20" height="17.33" fill="#f8696b"/>
<rect x="790.30" y="1028.35" width="89.30" height="17.33" fill="#b1d480"/>
<rect x="879.00" y="1028.35" width="86.90" height="17.33" fill="#fcb77a"/>
<rect x="965.30" y="1028.35" width="89.20" height="17.33" fill="#fcb77a"/>
<rect x="790.30" y="1044.67" width="89.30" height="16.33" fill="#b1d480"/>
<rect x="879.00" y="1044.67" width="86.90" height="16.33" fill="#f9766e"/>
<rect x="965.30" y="1044.67" width="89.20" height="16.33" fill="#fcaa78"/>
<rect x="734.60" y="930.40" width="51.90" height="130.60" fill="#fff" stroke="#d0d7e5" stroke-width="1"/>
<line x1="734.60" y1="946.73" x2="786.50" y2="946.73" stroke="#d0d7e5" stroke-width="1"/>
<line x1="734.60" y1="963.05" x2="786.50" y2="963.05" stroke="#d0d7e5" stroke-width="1"/>
<line x1="734.60" y1="979.38" x2="786.50" y2="979.38" stroke="#d0d7e5" stroke-width="1"/>
<line x1="734.60" y1="995.70" x2="786.50" y2="995.70" stroke="#d0d7e5" stroke-width="1"/>
<line x1="734.60" y1="1012.02" x2="786.50" y2="1012.02" stroke="#d0d7e5" stroke-width="1"/>
<line x1="734.60" y1="1028.35" x2="786.50" y2="1028.35" stroke="#d0d7e5" stroke-width="1"/>
<line x1="734.60" y1="1044.67" x2="786.50" y2="1044.67" stroke="#d0d7e5" stroke-width="1"/>
<g font-size="11.2" font-weight="bold">
<text x="755.50" y="943.46" textLength="11.21" lengthAdjust="spacingAndGlyphs" font-weight="normal" stroke="#111" stroke-width="0.3">60</text>
<text x="823.19" y="943.46" textLength="25.22" lengthAdjust="spacingAndGlyphs">1.054</text>
<text x="910.89" y="943.46" textLength="25.22" lengthAdjust="spacingAndGlyphs">1.019</text>
<text x="997.99" y="943.46" textLength="25.22" lengthAdjust="spacingAndGlyphs">1.023</text>
<text x="755.50" y="959.79" textLength="11.21" lengthAdjust="spacingAndGlyphs" font-weight="normal" stroke="#111" stroke-width="0.3">53</text>
<text x="823.19" y="959.79" textLength="25.22" lengthAdjust="spacingAndGlyphs">1.141</text>
<text x="910.89" y="959.79" textLength="25.22" lengthAdjust="spacingAndGlyphs">0.977</text>
<text x="997.99" y="959.79" textLength="25.22" lengthAdjust="spacingAndGlyphs">0.994</text>
<text x="755.50" y="976.11" textLength="11.21" lengthAdjust="spacingAndGlyphs" font-weight="normal" stroke="#111" stroke-width="0.3">42</text>
<text x="823.19" y="976.11" textLength="25.22" lengthAdjust="spacingAndGlyphs">1.004</text>
<text x="910.89" y="976.11" textLength="25.22" lengthAdjust="spacingAndGlyphs">1.030</text>
<text x="997.99" y="976.11" textLength="25.22" lengthAdjust="spacingAndGlyphs">0.989</text>
<text x="755.50" y="992.44" textLength="11.21" lengthAdjust="spacingAndGlyphs" font-weight="normal" stroke="#111" stroke-width="0.3">43</text>
<text x="823.19" y="992.44" textLength="25.22" lengthAdjust="spacingAndGlyphs">2.053</text>
<text x="910.89" y="992.44" textLength="25.22" lengthAdjust="spacingAndGlyphs">2.204</text>
<text x="997.99" y="992.44" textLength="25.22" lengthAdjust="spacingAndGlyphs">2.041</text>
<text x="755.50" y="1008.76" textLength="11.21" lengthAdjust="spacingAndGlyphs" font-weight="normal" stroke="#111" stroke-width="0.3">25</text>
<text x="823.19" y="1008.76" textLength="25.22" lengthAdjust="spacingAndGlyphs">1.687</text>
<text x="910.89" y="1008.76" textLength="25.22" lengthAdjust="spacingAndGlyphs">1.814</text>
<text x="997.99" y="1008.76" textLength="25.22" lengthAdjust="spacingAndGlyphs">1.678</text>
<text x="755.50" y="1025.09" textLength="11.21" lengthAdjust="spacingAndGlyphs" font-weight="normal" stroke="#111" stroke-width="0.3">44</text>
<text x="823.19" y="1025.09" textLength="25.22" lengthAdjust="spacingAndGlyphs">3.436</text>
<text x="910.89" y="1025.09" textLength="25.22" lengthAdjust="spacingAndGlyphs">3.631</text>
<text x="997.99" y="1025.09" textLength="25.22" lengthAdjust="spacingAndGlyphs">3.700</text>
<text x="755.50" y="1041.41" textLength="11.21" lengthAdjust="spacingAndGlyphs" font-weight="normal" stroke="#111" stroke-width="0.3">41</text>
<text x="823.19" y="1041.41" textLength="25.22" lengthAdjust="spacingAndGlyphs">1.194</text>
<text x="910.89" y="1041.41" textLength="25.22" lengthAdjust="spacingAndGlyphs">1.359</text>
<text x="997.99" y="1041.41" textLength="25.22" lengthAdjust="spacingAndGlyphs">1.381</text>
<text x="755.50" y="1057.74" textLength="11.21" lengthAdjust="spacingAndGlyphs" font-weight="normal" stroke="#111" stroke-width="0.3">52</text>
<text x="823.19" y="1057.74" textLength="25.22" lengthAdjust="spacingAndGlyphs">4.290</text>
<text x="910.89" y="1057.74" textLength="25.22" lengthAdjust="spacingAndGlyphs">4.859</text>
<text x="997.99" y="1057.74" textLength="25.22" lengthAdjust="spacingAndGlyphs">4.684</text>
</g>
<line x1="879.20" y1="931.80" x2="879.20" y2="1061.00" stroke="#000" stroke-width="6.2"/>
<g font-size="19.4" font-weight="bold" fill="#000">
<text x="740.90" y="922.30" textLength="47.40" lengthAdjust="spacingAndGlyphs">Gel#</text>
<text x="820.90" y="922.30" textLength="28.40" lengthAdjust="spacingAndGlyphs">KO</text>
<text x="887.70" y="922.30" textLength="69.30" lengthAdjust="spacingAndGlyphs">1A0-LE</text>
<text x="973.80" y="922.30" textLength="69.30" lengthAdjust="spacingAndGlyphs">6A4-LE</text>
</g>
</g>
<text x="249.20" y="82.80" font-size="29.2" font-weight="bold" fill="#000">A</text>
<text x="251.80" y="746.00" font-size="28.0" font-weight="bold" fill="#000">B</text>
<text x="650.80" y="120.00" font-size="27.5" font-weight="bold" fill="#000">C</text>
<text x="650.60" y="481.30" font-size="27.2" font-weight="bold" fill="#000">D</text>
<text x="650.70" y="919.80" font-size="28.0" font-weight="bold" fill="#000">E</text>
<text x="23.5" y="131" font-size="32" fill="#000" textLength="117.5" lengthAdjust="spacingAndGlyphs">Figure 9</text>
<text transform="translate(289.10 579.50) rotate(-90)" x="0" y="0" font-size="20.8" font-weight="bold" fill="#000" textLength="343.75" lengthAdjust="spacingAndGlyphs">Actin-related/cytoskeletal proteins</text>
<text transform="translate(281.60 1045.01) rotate(-90)" x="0" y="0" font-size="20.8" font-weight="bold" fill="#000" textLength="233.02" lengthAdjust="spacingAndGlyphs">Nrf2-regulated proteins</text>
<text transform="translate(698.10 402.50) rotate(-90)" x="0" y="0" font-size="20.8" font-weight="bold" fill="#000" textLength="286.00" lengthAdjust="spacingAndGlyphs">Protease balance/chaperone</text>
<text transform="translate(722.20 343.00) rotate(-90)" x="0" y="0" font-size="20.8" font-weight="bold" fill="#000" textLength="171.00" lengthAdjust="spacingAndGlyphs">function proteins</text>
<text transform="translate(725.10 840.50) rotate(-90)" x="0" y="0" font-size="20.8" font-weight="bold" fill="#000" textLength="359.51" lengthAdjust="spacingAndGlyphs">Regulation of inflammation proteins</text>
<text transform="translate(696.00 1078.02) rotate(-90)" x="0" y="0" font-size="20.8" font-weight="bold" fill="#000" textLength="175.02" lengthAdjust="spacingAndGlyphs">Regulatory/differ-</text>
<text transform="translate(720.10 1078.51) rotate(-90)" x="0" y="0" font-size="20.8" font-weight="bold" fill="#000" textLength="174.01" lengthAdjust="spacingAndGlyphs">entiative proteins</text>
</g></svg>
<svg width="1073" height="270" viewBox="0 1100 1073 270" style="position:absolute;left:0;top:1100px"><rect x="2" y="1116" width="1067" height="249.7" fill="none" stroke="#9a555b" stroke-width="1.8" stroke-dasharray="8 6.6"/></svg>
<div id="cap">
<div class="ln" style="top:24.8px">Figure 9.&nbsp; <b>Heat maps of functional groups.</b>&nbsp; Heat maps are shown for each functional group of proteins de-</div>
<div class="ln" style="top:62.3px">picting the expression in KO, 1A<sup>0</sup>-LE and 6A<sup>4</sup>-LE mice stratified according to KO levels.&nbsp; Color scheme is as de-</div>
<div class="ln" style="top:99.9px">scribed in Figure 3.&nbsp; The column labeled “Gel #” refers to the numbers in Supplementary Figure 3.&nbsp; Panel A shows</div>
<div class="ln" style="top:137.5px">the heat map for actin-related/cytoskeletal proteins.&nbsp; Panel B shows the heat map for Nrf2-regulated proteins.</div>
<div class="ln" style="top:175.0px">Panel C shows the heat map for protease balance/chaperone function proteins.&nbsp; Panel D shows the heat map for</div>
<div class="ln last" style="top:212.5px">regulation of inflammation proteins.&nbsp; Panel E shows the heat map for regulatory/differentiative proteins.</div>
</div>
</body></html>
